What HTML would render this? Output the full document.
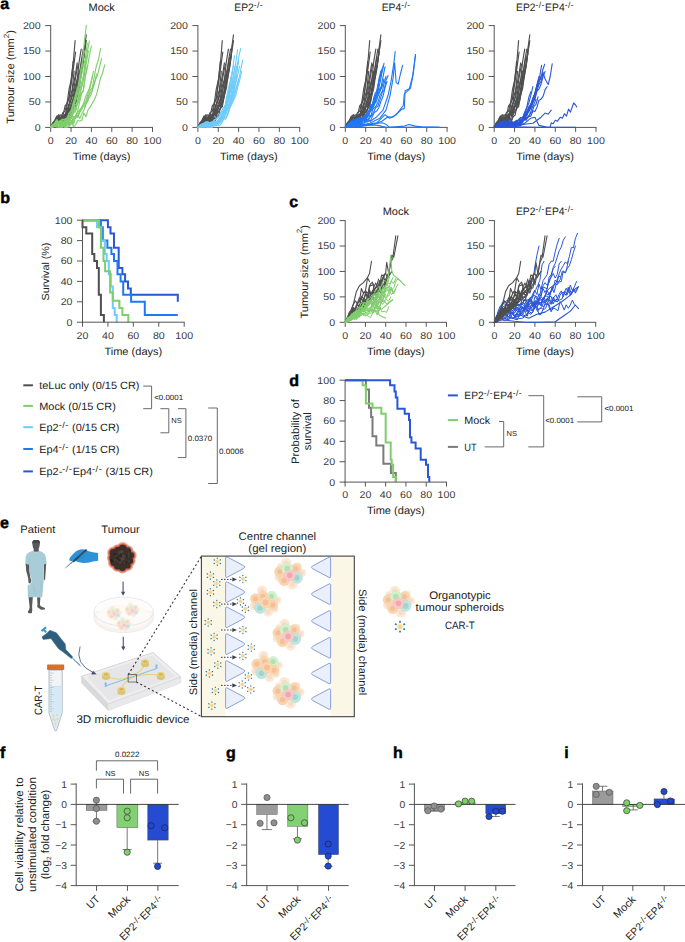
<!DOCTYPE html>
<html><head><meta charset="utf-8"><title>Figure</title>
<style>
html,body{margin:0;padding:0;background:#fff;}
svg{display:block;font-family:"Liberation Sans",sans-serif;text-rendering:geometricPrecision;}
</style></head><body>
<svg width="685" height="942" viewBox="0 0 685 942">
<rect width="685" height="942" fill="#fff"/>
<text x="0.2" y="8.9" font-size="16" text-anchor="start" fill="#000" font-weight="bold" stroke="#000" stroke-width="0.45">a</text>
<line x1="50.70" y1="25.10" x2="50.70" y2="127.90" stroke="#555" stroke-width="1"/>
<line x1="50.20" y1="127.40" x2="153.00" y2="127.40" stroke="#555" stroke-width="1"/>
<line x1="50.70" y1="127.40" x2="50.70" y2="131.90" stroke="#555" stroke-width="1"/>
<text transform="translate(50.7 143.7) scale(1.082 1)" font-size="9.84" text-anchor="middle" fill="#3a3a3a">0</text>
<line x1="71.06" y1="127.40" x2="71.06" y2="131.90" stroke="#555" stroke-width="1"/>
<text transform="translate(71.1 143.7) scale(1.082 1)" font-size="9.84" text-anchor="middle" fill="#3a3a3a">20</text>
<line x1="91.42" y1="127.40" x2="91.42" y2="131.90" stroke="#555" stroke-width="1"/>
<text transform="translate(91.4 143.7) scale(1.082 1)" font-size="9.84" text-anchor="middle" fill="#3a3a3a">40</text>
<line x1="111.78" y1="127.40" x2="111.78" y2="131.90" stroke="#555" stroke-width="1"/>
<text transform="translate(111.8 143.7) scale(1.082 1)" font-size="9.84" text-anchor="middle" fill="#3a3a3a">60</text>
<line x1="132.14" y1="127.40" x2="132.14" y2="131.90" stroke="#555" stroke-width="1"/>
<text transform="translate(132.1 143.7) scale(1.082 1)" font-size="9.84" text-anchor="middle" fill="#3a3a3a">80</text>
<line x1="152.50" y1="127.40" x2="152.50" y2="131.90" stroke="#555" stroke-width="1"/>
<text transform="translate(152.5 143.7) scale(1.082 1)" font-size="9.84" text-anchor="middle" fill="#3a3a3a">100</text>
<line x1="45.20" y1="127.40" x2="50.70" y2="127.40" stroke="#555" stroke-width="1"/>
<text transform="translate(40.7 130.8) scale(1.082 1)" font-size="9.84" text-anchor="end" fill="#3a3a3a">0</text>
<line x1="45.20" y1="101.95" x2="50.70" y2="101.95" stroke="#555" stroke-width="1"/>
<text transform="translate(40.7 105.4) scale(1.082 1)" font-size="9.84" text-anchor="end" fill="#3a3a3a">50</text>
<line x1="45.20" y1="76.50" x2="50.70" y2="76.50" stroke="#555" stroke-width="1"/>
<text transform="translate(40.7 79.9) scale(1.082 1)" font-size="9.84" text-anchor="end" fill="#3a3a3a">100</text>
<line x1="45.20" y1="51.05" x2="50.70" y2="51.05" stroke="#555" stroke-width="1"/>
<text transform="translate(40.7 54.4) scale(1.082 1)" font-size="9.84" text-anchor="end" fill="#3a3a3a">150</text>
<line x1="45.20" y1="25.60" x2="50.70" y2="25.60" stroke="#555" stroke-width="1"/>
<text transform="translate(40.7 29.0) scale(1.082 1)" font-size="9.84" text-anchor="end" fill="#3a3a3a">200</text>
<text transform="translate(101.6 11.4) scale(1.019 1)" font-size="10.81" text-anchor="middle" fill="#222">Mock</text>
<text transform="translate(101.6 159.7) scale(1.040 1)" font-size="10.62" text-anchor="middle" fill="#222">Time (days)</text>
<text transform="translate(14.4 76.9) rotate(-90) scale(1.040 1)" font-size="10.62" text-anchor="middle" fill="#222">Tumour size (mm<tspan dy="-5.2" font-size="7.6">2</tspan><tspan dy="5.2">)</tspan></text>
<path d="M50.7,127.4 L52.7,122.8 L54.8,120.3 L56.8,116.0 L58.8,120.6 L60.9,117.6 L62.9,112.4 L65.0,111.3 L67.0,102.8 L69.0,99.0 L71.1,81.5 L73.1,61.3" stroke="#4f4f4f" stroke-width="1.15" fill="none" stroke-linejoin="round" stroke-linecap="round"/>
<path d="M50.7,127.4 L52.7,126.6 L54.8,123.8 L56.8,121.5 L58.8,115.8 L60.9,114.9 L62.9,116.5 L65.0,106.0 L67.0,103.7 L69.0,89.5 L71.1,80.2 L73.1,64.7 L75.1,40.6" stroke="#4f4f4f" stroke-width="1.15" fill="none" stroke-linejoin="round" stroke-linecap="round"/>
<path d="M50.7,127.4 L52.8,124.0 L54.9,122.3 L56.9,123.5 L59.0,118.4 L61.1,120.9 L63.2,117.5 L65.2,116.8 L67.3,103.8 L69.4,96.2 L71.5,81.6 L73.6,66.9 L75.6,52.0" stroke="#4f4f4f" stroke-width="1.15" fill="none" stroke-linejoin="round" stroke-linecap="round"/>
<path d="M50.7,127.4 L52.7,127.1 L54.6,126.4 L56.6,124.2 L58.6,121.3 L60.5,124.8 L62.5,117.8 L64.4,117.9 L66.4,114.4 L68.4,105.4 L70.3,102.1 L72.3,96.1 L74.3,86.0 L76.2,74.0 L78.2,64.0" stroke="#4f4f4f" stroke-width="1.15" fill="none" stroke-linejoin="round" stroke-linecap="round"/>
<path d="M50.7,127.4 L52.7,125.3 L54.8,123.5 L56.8,126.9 L58.8,121.6 L60.9,124.3 L62.9,121.8 L65.0,124.9 L67.0,122.1 L69.0,117.4 L71.1,106.0 L73.1,105.6 L75.1,92.5 L77.2,80.4 L79.2,70.8" stroke="#4f4f4f" stroke-width="1.15" fill="none" stroke-linejoin="round" stroke-linecap="round"/>
<path d="M50.7,127.4 L52.7,125.3 L54.8,122.2 L56.8,123.7 L58.8,118.8 L60.9,118.3 L62.9,117.4 L65.0,122.7 L67.0,112.7 L69.0,115.5 L71.1,107.7 L73.1,98.0 L75.1,86.1 L77.2,79.5 L79.2,61.3 L81.2,49.1" stroke="#4f4f4f" stroke-width="1.15" fill="none" stroke-linejoin="round" stroke-linecap="round"/>
<path d="M50.7,127.4 L52.7,126.7 L54.6,125.6 L56.6,123.8 L58.6,119.8 L60.6,117.0 L62.5,122.7 L64.5,121.9 L66.5,111.8 L68.5,112.0 L70.4,108.7 L72.4,104.6 L74.4,95.1 L76.3,85.5 L78.3,79.6 L80.3,69.7 L82.3,57.6" stroke="#4f4f4f" stroke-width="1.15" fill="none" stroke-linejoin="round" stroke-linecap="round"/>
<path d="M50.7,127.4 L52.8,126.1 L54.9,123.4 L57.0,126.1 L59.1,122.0 L61.2,119.7 L63.3,121.6 L65.4,119.0 L67.5,122.5 L69.6,116.8 L71.7,115.0 L73.8,104.0 L75.9,101.6 L78.0,91.7 L80.1,76.9 L82.2,65.6 L84.3,53.6" stroke="#4f4f4f" stroke-width="1.15" fill="none" stroke-linejoin="round" stroke-linecap="round"/>
<path d="M50.7,127.4 L52.7,124.4 L54.7,123.0 L56.6,121.9 L58.6,120.0 L60.6,122.3 L62.6,120.8 L64.6,115.5 L66.5,114.7 L68.5,115.3 L70.5,113.3 L72.5,110.3 L74.5,106.6 L76.4,98.0 L78.4,85.1 L80.4,74.0 L82.4,66.0 L84.4,48.5 L86.3,34.8" stroke="#4f4f4f" stroke-width="1.15" fill="none" stroke-linejoin="round" stroke-linecap="round"/>
<path d="M50.7,127.4 L52.7,123.8 L54.8,122.6 L56.8,118.1 L58.8,119.6 L60.9,118.8 L62.9,116.7 L65.0,117.1 L67.0,119.4 L69.0,112.2 L71.1,111.7 L73.1,108.0 L75.1,106.8 L77.2,95.0 L79.2,88.1 L81.2,73.3 L83.3,61.3 L85.3,44.9" stroke="#4f4f4f" stroke-width="1.15" fill="none" stroke-linejoin="round" stroke-linecap="round"/>
<path d="M50.7,127.4 L52.7,124.9 L54.8,120.7 L56.8,117.0 L58.8,114.7 L60.9,118.7 L62.9,115.0 L65.0,114.5 L67.0,114.7 L69.0,110.1 L71.1,106.7 L73.1,105.1 L75.1,98.1 L77.2,92.2 L79.2,75.7 L81.2,61.5 L83.3,49.0" stroke="#4f4f4f" stroke-width="1.15" fill="none" stroke-linejoin="round" stroke-linecap="round"/>
<path d="M50.7,127.4 L52.8,123.6 L54.9,123.1 L57.0,117.2 L59.1,117.8 L61.2,117.3 L63.4,119.0 L65.5,116.4 L67.6,113.2 L69.7,111.4 L71.8,106.4 L73.9,106.3 L76.0,97.8 L78.1,86.2 L80.2,74.4" stroke="#4f4f4f" stroke-width="1.15" fill="none" stroke-linejoin="round" stroke-linecap="round"/>
<path d="M50.7,127.4 L52.7,124.2 L54.8,124.0 L56.8,119.3 L58.8,119.9 L60.9,121.1 L62.9,118.9 L65.0,114.4 L67.0,111.2 L69.0,105.2 L71.1,99.0 L73.1,86.4 L75.1,76.4 L77.2,62.9" stroke="#4f4f4f" stroke-width="1.15" fill="none" stroke-linejoin="round" stroke-linecap="round"/>
<path d="M50.7,127.4 L52.7,124.4 L54.6,126.4 L56.6,123.0 L58.5,123.1 L60.5,122.2 L62.4,123.5 L64.4,115.1 L66.3,114.6 L68.3,110.8 L70.2,97.2 L72.2,89.6 L74.1,71.3" stroke="#4f4f4f" stroke-width="1.15" fill="none" stroke-linejoin="round" stroke-linecap="round"/>
<path d="M50.7,127.4 L52.7,123.4 L54.7,121.1 L56.6,120.5 L58.6,117.0 L60.6,118.0 L62.6,119.6 L64.6,120.2 L66.5,114.5 L68.5,112.0 L70.5,105.1 L72.5,100.3 L74.5,97.6 L76.4,92.9 L78.4,80.7 L80.4,78.9 L82.4,67.9 L84.4,52.8 L86.3,40.6" stroke="#4f4f4f" stroke-width="1.15" fill="none" stroke-linejoin="round" stroke-linecap="round"/>
<path d="M50.7,127.4 L52.7,126.9 L54.8,123.3 L56.8,121.5 L58.8,121.6 L60.9,125.0 L62.9,122.3 L65.0,122.8 L67.0,121.6 L69.0,114.0 L71.1,110.0 L73.1,112.0 L75.1,100.0 L77.2,94.3 L79.2,86.8 L81.2,75.3" stroke="#7fce6c" stroke-width="1.1" fill="none" stroke-linejoin="round" stroke-linecap="round"/>
<path d="M50.7,127.4 L52.8,125.5 L54.9,124.2 L57.0,125.5 L59.1,121.7 L61.2,119.9 L63.3,119.3 L65.4,120.6 L67.5,122.5 L69.6,119.7 L71.7,114.4 L73.8,102.8 L75.9,100.1 L78.0,90.6 L80.1,75.9 L82.2,67.1 L84.3,50.7" stroke="#7fce6c" stroke-width="1.1" fill="none" stroke-linejoin="round" stroke-linecap="round"/>
<path d="M50.7,127.4 L52.7,126.5 L54.7,124.7 L56.6,127.1 L58.6,126.7 L60.6,125.6 L62.6,127.4 L64.6,123.5 L66.5,119.2 L68.5,117.4 L70.5,114.2 L72.5,106.5 L74.5,104.7 L76.4,93.4 L78.4,84.8 L80.4,71.4 L82.4,61.3 L84.4,41.1 L86.3,25.4" stroke="#7fce6c" stroke-width="1.1" fill="none" stroke-linejoin="round" stroke-linecap="round"/>
<path d="M50.7,127.4 L52.7,124.3 L54.8,124.2 L56.8,122.8 L58.8,123.0 L60.9,122.6 L62.9,119.2 L65.0,120.6 L67.0,118.6 L69.0,113.1 L71.1,111.2 L73.1,103.0 L75.1,96.0 L77.2,89.7 L79.2,84.3 L81.2,76.7 L83.3,66.5 L85.3,58.9 L87.3,43.4" stroke="#7fce6c" stroke-width="1.1" fill="none" stroke-linejoin="round" stroke-linecap="round"/>
<path d="M50.7,127.4 L52.8,127.4 L54.9,125.5 L57.0,123.8 L59.1,124.4 L61.2,121.3 L63.3,122.5 L65.3,124.8 L67.4,121.4 L69.5,116.5 L71.6,116.2 L73.7,111.6 L75.8,110.4 L77.9,101.2 L80.0,94.0 L82.1,85.8 L84.2,75.7 L86.3,63.1 L88.4,50.9" stroke="#7fce6c" stroke-width="1.1" fill="none" stroke-linejoin="round" stroke-linecap="round"/>
<path d="M50.7,127.4 L52.7,126.8 L54.8,123.9 L56.8,125.4 L58.8,127.3 L60.9,127.4 L62.9,124.2 L65.0,126.9 L67.0,125.3 L69.0,123.2 L71.1,118.0 L73.1,110.4 L75.1,109.3 L77.2,103.7 L79.2,96.9 L81.2,88.2 L83.3,79.0 L85.3,66.0 L87.3,52.2 L89.4,40.9" stroke="#7fce6c" stroke-width="1.1" fill="none" stroke-linejoin="round" stroke-linecap="round"/>
<path d="M50.7,127.4 L52.7,124.6 L54.8,125.7 L56.8,124.1 L58.8,121.4 L60.9,121.0 L62.9,121.4 L65.0,121.5 L67.0,119.1 L69.0,120.2 L71.1,115.9 L73.1,112.1 L75.1,112.3 L77.2,104.9 L79.2,100.5 L81.2,92.9 L83.3,91.4 L85.3,76.6 L87.3,67.9 L89.4,55.4 L91.4,46.0" stroke="#7fce6c" stroke-width="1.1" fill="none" stroke-linejoin="round" stroke-linecap="round"/>
<path d="M50.7,127.4 L52.7,127.0 L54.8,123.9 L56.8,120.6 L58.8,123.8 L60.9,123.0 L62.9,125.3 L65.0,124.5 L67.0,124.2 L69.0,124.5 L71.1,117.1 L73.1,116.4 L75.1,117.5 L77.2,113.1 L79.2,110.4 L81.2,107.9 L83.3,104.4 L85.3,97.7 L87.3,92.8 L89.4,88.5 L91.4,80.6 L93.5,71.4" stroke="#7fce6c" stroke-width="1.1" fill="none" stroke-linejoin="round" stroke-linecap="round"/>
<path d="M50.7,127.4 L52.8,126.1 L54.9,124.1 L57.0,122.8 L59.0,123.4 L61.1,127.4 L63.2,125.1 L65.3,127.4 L67.4,127.2 L69.5,125.1 L71.6,122.5 L73.7,118.8 L75.7,117.7 L77.8,117.5 L79.9,111.3 L82.0,108.7 L84.1,104.0 L86.2,100.2 L88.3,92.6 L90.4,86.0 L92.4,76.5" stroke="#7fce6c" stroke-width="1.1" fill="none" stroke-linejoin="round" stroke-linecap="round"/>
<path d="M50.7,127.4 L52.8,126.2 L54.9,125.0 L56.9,122.7 L59.0,121.8 L61.1,121.2 L63.2,124.2 L65.3,121.4 L67.4,120.0 L69.4,119.4 L71.5,120.5 L73.6,124.1 L75.7,117.0 L77.8,115.1 L79.9,118.5 L81.9,113.4 L84.0,110.0 L86.1,103.0 L88.2,99.3 L90.3,96.3 L92.3,90.7 L94.4,83.9 L96.5,74.0" stroke="#7fce6c" stroke-width="1.1" fill="none" stroke-linejoin="round" stroke-linecap="round"/>
<path d="M50.7,127.4 L52.8,126.3 L54.9,122.4 L56.9,119.5 L59.0,123.2 L61.1,121.2 L63.2,122.4 L65.2,118.6 L67.3,119.2 L69.4,124.8 L71.5,122.7 L73.6,117.0 L75.6,117.4 L77.7,115.8 L79.8,111.3 L81.9,108.6 L84.0,103.7 L86.0,103.9 L88.1,100.6 L90.2,89.9 L92.3,87.6 L94.3,76.3 L96.4,65.7 L98.5,59.6 L100.6,48.5" stroke="#7fce6c" stroke-width="1.1" fill="none" stroke-linejoin="round" stroke-linecap="round"/>
<path d="M50.7,127.4 L52.7,126.3 L54.8,124.3 L56.8,122.5 L58.8,127.4 L60.9,121.8 L62.9,124.6 L65.0,125.5 L67.0,124.6 L69.0,122.5 L71.1,123.1 L73.1,123.1 L75.1,116.3 L77.2,115.3 L79.2,113.6 L81.2,110.0 L83.3,104.9 L85.3,107.0 L87.3,98.4 L89.4,93.9 L91.4,92.2 L93.5,85.1 L95.5,79.8 L97.5,75.3 L99.6,66.6 L101.6,58.7" stroke="#7fce6c" stroke-width="1.1" fill="none" stroke-linejoin="round" stroke-linecap="round"/>
<path d="M50.7,127.4 L52.8,126.1 L54.9,125.4 L56.9,122.5 L59.0,123.0 L61.1,125.8 L63.2,125.8 L65.2,127.4 L67.3,127.4 L69.4,125.9 L71.5,121.0 L73.5,126.7 L75.6,124.9 L77.7,120.5 L79.8,121.0 L81.8,120.5 L83.9,112.9 L86.0,116.7 L88.1,109.6 L90.1,107.1 L92.2,103.5 L94.3,99.9 L96.4,94.8 L98.4,87.2 L100.5,78.2 L102.6,73.0 L104.7,64.8" stroke="#7fce6c" stroke-width="1.1" fill="none" stroke-linejoin="round" stroke-linecap="round"/>
<path d="M50.7,127.4 L52.7,125.4 L54.8,125.4 L56.8,125.3 L58.8,124.4 L60.9,121.9 L62.9,125.5 L65.0,127.4 L67.0,120.9 L69.0,125.9 L71.1,124.3 L73.1,117.5 L75.1,117.0 L77.2,112.6 L79.2,104.3 L81.2,95.3 L83.3,90.3 L85.3,75.7 L87.3,66.1" stroke="#7fce6c" stroke-width="1.1" fill="none" stroke-linejoin="round" stroke-linecap="round"/>
<path d="M50.7,127.4 L52.7,127.4 L54.8,126.1 L56.8,122.4 L58.8,121.5 L60.9,125.7 L62.9,121.9 L65.0,122.6 L67.0,120.8 L69.0,120.3 L71.1,118.8 L73.1,114.0 L75.1,104.6 L77.2,103.9 L79.2,91.3 L81.2,84.3 L83.3,76.5 L85.3,60.6" stroke="#7fce6c" stroke-width="1.1" fill="none" stroke-linejoin="round" stroke-linecap="round"/>
<line x1="197.90" y1="25.10" x2="197.90" y2="127.90" stroke="#555" stroke-width="1"/>
<line x1="197.40" y1="127.40" x2="300.20" y2="127.40" stroke="#555" stroke-width="1"/>
<line x1="197.90" y1="127.40" x2="197.90" y2="131.90" stroke="#555" stroke-width="1"/>
<text transform="translate(197.9 143.7) scale(1.082 1)" font-size="9.84" text-anchor="middle" fill="#3a3a3a">0</text>
<line x1="218.26" y1="127.40" x2="218.26" y2="131.90" stroke="#555" stroke-width="1"/>
<text transform="translate(218.3 143.7) scale(1.082 1)" font-size="9.84" text-anchor="middle" fill="#3a3a3a">20</text>
<line x1="238.62" y1="127.40" x2="238.62" y2="131.90" stroke="#555" stroke-width="1"/>
<text transform="translate(238.6 143.7) scale(1.082 1)" font-size="9.84" text-anchor="middle" fill="#3a3a3a">40</text>
<line x1="258.98" y1="127.40" x2="258.98" y2="131.90" stroke="#555" stroke-width="1"/>
<text transform="translate(259.0 143.7) scale(1.082 1)" font-size="9.84" text-anchor="middle" fill="#3a3a3a">60</text>
<line x1="279.34" y1="127.40" x2="279.34" y2="131.90" stroke="#555" stroke-width="1"/>
<text transform="translate(279.3 143.7) scale(1.082 1)" font-size="9.84" text-anchor="middle" fill="#3a3a3a">80</text>
<line x1="299.70" y1="127.40" x2="299.70" y2="131.90" stroke="#555" stroke-width="1"/>
<text transform="translate(299.7 143.7) scale(1.082 1)" font-size="9.84" text-anchor="middle" fill="#3a3a3a">100</text>
<line x1="192.40" y1="127.40" x2="197.90" y2="127.40" stroke="#555" stroke-width="1"/>
<text transform="translate(187.9 130.8) scale(1.082 1)" font-size="9.84" text-anchor="end" fill="#3a3a3a">0</text>
<line x1="192.40" y1="101.95" x2="197.90" y2="101.95" stroke="#555" stroke-width="1"/>
<text transform="translate(187.9 105.4) scale(1.082 1)" font-size="9.84" text-anchor="end" fill="#3a3a3a">50</text>
<line x1="192.40" y1="76.50" x2="197.90" y2="76.50" stroke="#555" stroke-width="1"/>
<text transform="translate(187.9 79.9) scale(1.082 1)" font-size="9.84" text-anchor="end" fill="#3a3a3a">100</text>
<line x1="192.40" y1="51.05" x2="197.90" y2="51.05" stroke="#555" stroke-width="1"/>
<text transform="translate(187.9 54.4) scale(1.082 1)" font-size="9.84" text-anchor="end" fill="#3a3a3a">150</text>
<line x1="192.40" y1="25.60" x2="197.90" y2="25.60" stroke="#555" stroke-width="1"/>
<text transform="translate(187.9 29.0) scale(1.082 1)" font-size="9.84" text-anchor="end" fill="#3a3a3a">200</text>
<text transform="translate(248.8 11.4) scale(0.957 1)" font-size="10.81" text-anchor="middle" fill="#222">EP2<tspan dy="-3.0" font-size="8.80" letter-spacing="0.45">-/-</tspan><tspan dy="3.0" font-size="1">&#160;</tspan></text>
<text transform="translate(248.8 159.7) scale(1.040 1)" font-size="10.62" text-anchor="middle" fill="#222">Time (days)</text>
<path d="M197.9,127.4 L199.9,122.8 L202.0,120.3 L204.0,116.0 L206.0,120.6 L208.1,117.6 L210.1,112.4 L212.2,111.3 L214.2,102.8 L216.2,99.0 L218.3,81.5 L220.3,61.3" stroke="#4f4f4f" stroke-width="1.15" fill="none" stroke-linejoin="round" stroke-linecap="round"/>
<path d="M197.9,127.4 L199.9,126.6 L202.0,123.8 L204.0,121.5 L206.0,115.8 L208.1,114.9 L210.1,116.5 L212.2,106.0 L214.2,103.7 L216.2,89.5 L218.3,80.2 L220.3,64.7 L222.3,40.6" stroke="#4f4f4f" stroke-width="1.15" fill="none" stroke-linejoin="round" stroke-linecap="round"/>
<path d="M197.9,127.4 L200.0,124.0 L202.1,122.3 L204.1,123.5 L206.2,118.4 L208.3,120.9 L210.4,117.5 L212.4,116.8 L214.5,103.8 L216.6,96.2 L218.7,81.6 L220.8,66.9 L222.8,52.0" stroke="#4f4f4f" stroke-width="1.15" fill="none" stroke-linejoin="round" stroke-linecap="round"/>
<path d="M197.9,127.4 L199.9,127.1 L201.8,126.4 L203.8,124.2 L205.8,121.3 L207.7,124.8 L209.7,117.8 L211.6,117.9 L213.6,114.4 L215.6,105.4 L217.5,102.1 L219.5,96.1 L221.5,86.0 L223.4,74.0 L225.4,64.0" stroke="#4f4f4f" stroke-width="1.15" fill="none" stroke-linejoin="round" stroke-linecap="round"/>
<path d="M197.9,127.4 L199.9,125.3 L202.0,123.5 L204.0,126.9 L206.0,121.6 L208.1,124.3 L210.1,121.8 L212.2,124.9 L214.2,122.1 L216.2,117.4 L218.3,106.0 L220.3,105.6 L222.3,92.5 L224.4,80.4 L226.4,70.8" stroke="#4f4f4f" stroke-width="1.15" fill="none" stroke-linejoin="round" stroke-linecap="round"/>
<path d="M197.9,127.4 L199.9,125.3 L202.0,122.2 L204.0,123.7 L206.0,118.8 L208.1,118.3 L210.1,117.4 L212.2,122.7 L214.2,112.7 L216.2,115.5 L218.3,107.7 L220.3,98.0 L222.3,86.1 L224.4,79.5 L226.4,61.3 L228.4,49.1" stroke="#4f4f4f" stroke-width="1.15" fill="none" stroke-linejoin="round" stroke-linecap="round"/>
<path d="M197.9,127.4 L199.9,126.7 L201.8,125.6 L203.8,123.8 L205.8,119.8 L207.8,117.0 L209.7,122.7 L211.7,121.9 L213.7,111.8 L215.7,112.0 L217.6,108.7 L219.6,104.6 L221.6,95.1 L223.5,85.5 L225.5,79.6 L227.5,69.7 L229.5,57.6" stroke="#4f4f4f" stroke-width="1.15" fill="none" stroke-linejoin="round" stroke-linecap="round"/>
<path d="M197.9,127.4 L200.0,126.1 L202.1,123.4 L204.2,126.1 L206.3,122.0 L208.4,119.7 L210.5,121.6 L212.6,119.0 L214.7,122.5 L216.8,116.8 L218.9,115.0 L221.0,104.0 L223.1,101.6 L225.2,91.7 L227.3,76.9 L229.4,65.6 L231.5,53.6" stroke="#4f4f4f" stroke-width="1.15" fill="none" stroke-linejoin="round" stroke-linecap="round"/>
<path d="M197.9,127.4 L199.9,124.4 L201.9,123.0 L203.8,121.9 L205.8,120.0 L207.8,122.3 L209.8,120.8 L211.8,115.5 L213.7,114.7 L215.7,115.3 L217.7,113.3 L219.7,110.3 L221.7,106.6 L223.6,98.0 L225.6,85.1 L227.6,74.0 L229.6,66.0 L231.6,48.5 L233.5,34.8" stroke="#4f4f4f" stroke-width="1.15" fill="none" stroke-linejoin="round" stroke-linecap="round"/>
<path d="M197.9,127.4 L199.9,123.8 L202.0,122.6 L204.0,118.1 L206.0,119.6 L208.1,118.8 L210.1,116.7 L212.2,117.1 L214.2,119.4 L216.2,112.2 L218.3,111.7 L220.3,108.0 L222.3,106.8 L224.4,95.0 L226.4,88.1 L228.4,73.3 L230.5,61.3 L232.5,44.9" stroke="#4f4f4f" stroke-width="1.15" fill="none" stroke-linejoin="round" stroke-linecap="round"/>
<path d="M197.9,127.4 L199.9,124.9 L202.0,120.7 L204.0,117.0 L206.0,114.7 L208.1,118.7 L210.1,115.0 L212.2,114.5 L214.2,114.7 L216.2,110.1 L218.3,106.7 L220.3,105.1 L222.3,98.1 L224.4,92.2 L226.4,75.7 L228.4,61.5 L230.5,49.0" stroke="#4f4f4f" stroke-width="1.15" fill="none" stroke-linejoin="round" stroke-linecap="round"/>
<path d="M197.9,127.4 L200.0,123.6 L202.1,123.1 L204.2,117.2 L206.3,117.8 L208.4,117.3 L210.6,119.0 L212.7,116.4 L214.8,113.2 L216.9,111.4 L219.0,106.4 L221.1,106.3 L223.2,97.8 L225.3,86.2 L227.4,74.4" stroke="#4f4f4f" stroke-width="1.15" fill="none" stroke-linejoin="round" stroke-linecap="round"/>
<path d="M197.9,127.4 L199.9,124.2 L202.0,124.0 L204.0,119.3 L206.0,119.9 L208.1,121.1 L210.1,118.9 L212.2,114.4 L214.2,111.2 L216.2,105.2 L218.3,99.0 L220.3,86.4 L222.3,76.4 L224.4,62.9" stroke="#4f4f4f" stroke-width="1.15" fill="none" stroke-linejoin="round" stroke-linecap="round"/>
<path d="M197.9,127.4 L199.9,124.4 L201.8,126.4 L203.8,123.0 L205.7,123.1 L207.7,122.2 L209.6,123.5 L211.6,115.1 L213.5,114.6 L215.5,110.8 L217.4,97.2 L219.4,89.6 L221.3,71.3" stroke="#4f4f4f" stroke-width="1.15" fill="none" stroke-linejoin="round" stroke-linecap="round"/>
<path d="M197.9,127.4 L199.9,123.4 L201.9,121.1 L203.8,120.5 L205.8,117.0 L207.8,118.0 L209.8,119.6 L211.8,120.2 L213.7,114.5 L215.7,112.0 L217.7,105.1 L219.7,100.3 L221.7,97.6 L223.6,92.9 L225.6,80.7 L227.6,78.9 L229.6,67.9 L231.6,52.8 L233.5,40.6" stroke="#4f4f4f" stroke-width="1.15" fill="none" stroke-linejoin="round" stroke-linecap="round"/>
<path d="M197.9,127.4 L200.0,126.2 L202.1,124.8 L204.2,123.2 L206.3,124.4 L208.4,123.2 L210.5,122.6 L212.6,121.4 L214.7,124.0 L216.8,121.2 L218.9,119.7 L221.0,112.4 L223.1,108.1 L225.2,105.3 L227.3,93.0 L229.4,84.0 L231.5,75.7" stroke="#6ecbfa" stroke-width="1.1" fill="none" stroke-linejoin="round" stroke-linecap="round"/>
<path d="M197.9,127.4 L199.9,127.4 L201.9,126.2 L203.8,127.3 L205.8,126.7 L207.8,126.6 L209.8,127.4 L211.8,125.5 L213.7,125.1 L215.7,122.0 L217.7,121.8 L219.7,118.6 L221.7,115.7 L223.6,110.1 L225.6,105.1 L227.6,98.6 L229.6,86.1 L231.6,75.7 L233.5,66.0" stroke="#6ecbfa" stroke-width="1.1" fill="none" stroke-linejoin="round" stroke-linecap="round"/>
<path d="M197.9,127.4 L199.9,127.3 L202.0,126.6 L204.0,126.8 L206.0,123.8 L208.1,125.4 L210.1,123.2 L212.2,125.6 L214.2,122.3 L216.2,121.9 L218.3,124.4 L220.3,120.6 L222.3,113.0 L224.4,109.9 L226.4,100.3 L228.4,94.6 L230.5,85.6 L232.5,70.1 L234.5,55.7" stroke="#6ecbfa" stroke-width="1.1" fill="none" stroke-linejoin="round" stroke-linecap="round"/>
<path d="M197.9,127.4 L199.9,127.3 L202.0,125.0 L204.0,124.9 L206.0,127.2 L208.1,126.9 L210.1,127.4 L212.2,127.4 L214.2,123.4 L216.2,125.5 L218.3,121.8 L220.3,119.9 L222.3,117.9 L224.4,111.1 L226.4,109.1 L228.4,100.5 L230.5,96.1 L232.5,86.4 L234.5,78.1 L236.6,66.2" stroke="#6ecbfa" stroke-width="1.1" fill="none" stroke-linejoin="round" stroke-linecap="round"/>
<path d="M197.9,127.4 L199.9,126.7 L201.9,124.1 L203.9,125.1 L205.8,123.9 L207.8,122.0 L209.8,123.1 L211.8,125.8 L213.8,120.8 L215.8,123.9 L217.8,122.3 L219.7,117.6 L221.7,117.0 L223.7,113.4 L225.7,109.7 L227.7,103.6 L229.7,93.8 L231.6,86.8 L233.6,74.8 L235.6,64.1 L237.6,49.5" stroke="#6ecbfa" stroke-width="1.1" fill="none" stroke-linejoin="round" stroke-linecap="round"/>
<path d="M197.9,127.4 L199.9,126.4 L202.0,124.6 L204.0,126.0 L206.0,125.9 L208.1,122.5 L210.1,123.0 L212.2,125.9 L214.2,125.9 L216.2,122.5 L218.3,120.4 L220.3,122.5 L222.3,116.3 L224.4,113.5 L226.4,110.8 L228.4,106.6 L230.5,102.0 L232.5,94.8 L234.5,81.3 L236.6,74.6 L238.6,61.2" stroke="#6ecbfa" stroke-width="1.1" fill="none" stroke-linejoin="round" stroke-linecap="round"/>
<path d="M197.9,127.4 L200.0,126.0 L202.1,125.6 L204.2,125.0 L206.2,122.4 L208.3,125.5 L210.4,124.9 L212.5,123.2 L214.6,121.3 L216.7,121.6 L218.8,122.0 L220.9,116.7 L222.9,117.7 L225.0,115.4 L227.1,110.0 L229.2,104.3 L231.3,100.5 L233.4,93.4 L235.5,84.9 L237.6,75.5 L239.6,66.3" stroke="#6ecbfa" stroke-width="1.1" fill="none" stroke-linejoin="round" stroke-linecap="round"/>
<path d="M197.9,127.4 L199.9,125.1 L202.0,124.5 L204.0,123.1 L206.0,123.0 L208.1,125.2 L210.1,125.7 L212.2,125.3 L214.2,119.9 L216.2,119.6 L218.3,116.4 L220.3,118.8 L222.3,112.5 L224.4,109.5 L226.4,103.7 L228.4,100.5 L230.5,91.0 L232.5,88.7 L234.5,78.4 L236.6,68.5 L238.6,57.6 L240.7,48.5" stroke="#6ecbfa" stroke-width="1.1" fill="none" stroke-linejoin="round" stroke-linecap="round"/>
<path d="M197.9,127.4 L199.9,125.4 L201.9,125.6 L203.9,123.4 L205.9,121.8 L207.8,121.7 L209.8,124.0 L211.8,122.3 L213.8,122.0 L215.8,123.3 L217.8,122.6 L219.8,123.0 L221.8,120.7 L223.8,118.8 L225.8,119.2 L227.7,113.5 L229.7,108.1 L231.7,104.4 L233.7,100.0 L235.7,95.8 L237.7,87.2 L239.7,80.1 L241.7,71.4" stroke="#6ecbfa" stroke-width="1.1" fill="none" stroke-linejoin="round" stroke-linecap="round"/>
<path d="M197.9,127.4 L199.9,126.3 L202.0,127.4 L204.0,125.5 L206.0,125.7 L208.1,127.0 L210.1,124.7 L212.2,125.7 L214.2,124.8 L216.2,122.7 L218.3,125.2 L220.3,125.2 L222.3,121.9 L224.4,117.6 L226.4,117.1 L228.4,113.5 L230.5,105.3 L232.5,101.3 L234.5,96.2 L236.6,86.7 L238.6,81.2 L240.7,70.0 L242.7,60.2" stroke="#6ecbfa" stroke-width="1.1" fill="none" stroke-linejoin="round" stroke-linecap="round"/>
<path d="M197.9,127.4 L200.0,125.3 L202.1,123.9 L204.2,124.3 L206.3,123.2 L208.4,124.6 L210.5,125.3 L212.5,122.9 L214.6,120.0 L216.7,118.2 L218.8,116.5 L220.9,112.0 L223.0,111.4 L225.1,106.9 L227.2,99.4 L229.3,93.2 L231.4,85.3 L233.5,74.9 L235.6,63.7" stroke="#6ecbfa" stroke-width="1.1" fill="none" stroke-linejoin="round" stroke-linecap="round"/>
<path d="M197.9,127.4 L199.9,125.9 L202.0,124.6 L204.0,125.4 L206.0,126.7 L208.1,127.2 L210.1,123.1 L212.2,127.3 L214.2,123.5 L216.2,123.4 L218.3,123.4 L220.3,119.1 L222.3,120.5 L224.4,116.6 L226.4,111.0 L228.4,108.3 L230.5,98.3 L232.5,94.5 L234.5,87.2 L236.6,76.4" stroke="#6ecbfa" stroke-width="1.1" fill="none" stroke-linejoin="round" stroke-linecap="round"/>
<path d="M197.9,127.4 L199.9,126.3 L202.0,125.3 L204.0,123.8 L206.0,122.7 L208.1,123.9 L210.1,126.3 L212.2,124.6 L214.2,125.6 L216.2,125.6 L218.3,122.1 L220.3,119.2 L222.3,119.9 L224.4,116.8 L226.4,113.3 L228.4,107.8 L230.5,104.3 L232.5,98.7 L234.5,92.1 L236.6,87.2 L238.6,79.0" stroke="#6ecbfa" stroke-width="1.1" fill="none" stroke-linejoin="round" stroke-linecap="round"/>
<path d="M197.9,127.4 L199.9,125.9 L202.0,125.7 L204.0,127.2 L206.0,125.8 L208.1,125.0 L210.1,123.6 L212.2,126.3 L214.2,124.9 L216.2,122.5 L218.3,121.2 L220.3,117.8 L222.3,116.4 L224.4,110.1 L226.4,105.4 L228.4,94.0 L230.5,82.6 L232.5,71.0" stroke="#6ecbfa" stroke-width="1.1" fill="none" stroke-linejoin="round" stroke-linecap="round"/>
<path d="M197.9,127.4 L199.9,125.9 L202.0,124.8 L204.0,123.8 L206.0,125.1 L208.1,123.8 L210.1,126.3 L212.2,123.2 L214.2,123.1 L216.2,125.0 L218.3,125.1 L220.3,121.3 L222.3,118.2 L224.4,113.6 L226.4,110.6 L228.4,107.4 L230.5,96.8 L232.5,92.7 L234.5,81.3" stroke="#6ecbfa" stroke-width="1.1" fill="none" stroke-linejoin="round" stroke-linecap="round"/>
<line x1="345.30" y1="25.10" x2="345.30" y2="127.90" stroke="#555" stroke-width="1"/>
<line x1="344.80" y1="127.40" x2="447.60" y2="127.40" stroke="#555" stroke-width="1"/>
<line x1="345.30" y1="127.40" x2="345.30" y2="131.90" stroke="#555" stroke-width="1"/>
<text transform="translate(345.3 143.7) scale(1.082 1)" font-size="9.84" text-anchor="middle" fill="#3a3a3a">0</text>
<line x1="365.66" y1="127.40" x2="365.66" y2="131.90" stroke="#555" stroke-width="1"/>
<text transform="translate(365.7 143.7) scale(1.082 1)" font-size="9.84" text-anchor="middle" fill="#3a3a3a">20</text>
<line x1="386.02" y1="127.40" x2="386.02" y2="131.90" stroke="#555" stroke-width="1"/>
<text transform="translate(386.0 143.7) scale(1.082 1)" font-size="9.84" text-anchor="middle" fill="#3a3a3a">40</text>
<line x1="406.38" y1="127.40" x2="406.38" y2="131.90" stroke="#555" stroke-width="1"/>
<text transform="translate(406.4 143.7) scale(1.082 1)" font-size="9.84" text-anchor="middle" fill="#3a3a3a">60</text>
<line x1="426.74" y1="127.40" x2="426.74" y2="131.90" stroke="#555" stroke-width="1"/>
<text transform="translate(426.7 143.7) scale(1.082 1)" font-size="9.84" text-anchor="middle" fill="#3a3a3a">80</text>
<line x1="447.10" y1="127.40" x2="447.10" y2="131.90" stroke="#555" stroke-width="1"/>
<text transform="translate(447.1 143.7) scale(1.082 1)" font-size="9.84" text-anchor="middle" fill="#3a3a3a">100</text>
<line x1="339.80" y1="127.40" x2="345.30" y2="127.40" stroke="#555" stroke-width="1"/>
<text transform="translate(335.3 130.8) scale(1.082 1)" font-size="9.84" text-anchor="end" fill="#3a3a3a">0</text>
<line x1="339.80" y1="101.95" x2="345.30" y2="101.95" stroke="#555" stroke-width="1"/>
<text transform="translate(335.3 105.4) scale(1.082 1)" font-size="9.84" text-anchor="end" fill="#3a3a3a">50</text>
<line x1="339.80" y1="76.50" x2="345.30" y2="76.50" stroke="#555" stroke-width="1"/>
<text transform="translate(335.3 79.9) scale(1.082 1)" font-size="9.84" text-anchor="end" fill="#3a3a3a">100</text>
<line x1="339.80" y1="51.05" x2="345.30" y2="51.05" stroke="#555" stroke-width="1"/>
<text transform="translate(335.3 54.4) scale(1.082 1)" font-size="9.84" text-anchor="end" fill="#3a3a3a">150</text>
<line x1="339.80" y1="25.60" x2="345.30" y2="25.60" stroke="#555" stroke-width="1"/>
<text transform="translate(335.3 29.0) scale(1.082 1)" font-size="9.84" text-anchor="end" fill="#3a3a3a">200</text>
<text transform="translate(396.2 11.4) scale(0.957 1)" font-size="10.81" text-anchor="middle" fill="#222">EP4<tspan dy="-3.0" font-size="8.80" letter-spacing="0.45">-/-</tspan><tspan dy="3.0" font-size="1">&#160;</tspan></text>
<text transform="translate(396.2 159.7) scale(1.040 1)" font-size="10.62" text-anchor="middle" fill="#222">Time (days)</text>
<path d="M345.3,127.4 L347.3,122.8 L349.4,120.3 L351.4,116.0 L353.4,120.6 L355.5,117.6 L357.5,112.4 L359.6,111.3 L361.6,102.8 L363.6,99.0 L365.7,81.5 L367.7,61.3" stroke="#4f4f4f" stroke-width="1.15" fill="none" stroke-linejoin="round" stroke-linecap="round"/>
<path d="M345.3,127.4 L347.3,126.6 L349.4,123.8 L351.4,121.5 L353.4,115.8 L355.5,114.9 L357.5,116.5 L359.6,106.0 L361.6,103.7 L363.6,89.5 L365.7,80.2 L367.7,64.7 L369.7,40.6" stroke="#4f4f4f" stroke-width="1.15" fill="none" stroke-linejoin="round" stroke-linecap="round"/>
<path d="M345.3,127.4 L347.4,124.0 L349.5,122.3 L351.5,123.5 L353.6,118.4 L355.7,120.9 L357.8,117.5 L359.8,116.8 L361.9,103.8 L364.0,96.2 L366.1,81.6 L368.2,66.9 L370.2,52.0" stroke="#4f4f4f" stroke-width="1.15" fill="none" stroke-linejoin="round" stroke-linecap="round"/>
<path d="M345.3,127.4 L347.3,127.1 L349.2,126.4 L351.2,124.2 L353.2,121.3 L355.1,124.8 L357.1,117.8 L359.0,117.9 L361.0,114.4 L363.0,105.4 L364.9,102.1 L366.9,96.1 L368.9,86.0 L370.8,74.0 L372.8,64.0" stroke="#4f4f4f" stroke-width="1.15" fill="none" stroke-linejoin="round" stroke-linecap="round"/>
<path d="M345.3,127.4 L347.3,125.3 L349.4,123.5 L351.4,126.9 L353.4,121.6 L355.5,124.3 L357.5,121.8 L359.6,124.9 L361.6,122.1 L363.6,117.4 L365.7,106.0 L367.7,105.6 L369.7,92.5 L371.8,80.4 L373.8,70.8" stroke="#4f4f4f" stroke-width="1.15" fill="none" stroke-linejoin="round" stroke-linecap="round"/>
<path d="M345.3,127.4 L347.3,125.3 L349.4,122.2 L351.4,123.7 L353.4,118.8 L355.5,118.3 L357.5,117.4 L359.6,122.7 L361.6,112.7 L363.6,115.5 L365.7,107.7 L367.7,98.0 L369.7,86.1 L371.8,79.5 L373.8,61.3 L375.8,49.1" stroke="#4f4f4f" stroke-width="1.15" fill="none" stroke-linejoin="round" stroke-linecap="round"/>
<path d="M345.3,127.4 L347.3,126.7 L349.2,125.6 L351.2,123.8 L353.2,119.8 L355.2,117.0 L357.1,122.7 L359.1,121.9 L361.1,111.8 L363.1,112.0 L365.0,108.7 L367.0,104.6 L369.0,95.1 L370.9,85.5 L372.9,79.6 L374.9,69.7 L376.9,57.6" stroke="#4f4f4f" stroke-width="1.15" fill="none" stroke-linejoin="round" stroke-linecap="round"/>
<path d="M345.3,127.4 L347.4,126.1 L349.5,123.4 L351.6,126.1 L353.7,122.0 L355.8,119.7 L357.9,121.6 L360.0,119.0 L362.1,122.5 L364.2,116.8 L366.3,115.0 L368.4,104.0 L370.5,101.6 L372.6,91.7 L374.7,76.9 L376.8,65.6 L378.9,53.6" stroke="#4f4f4f" stroke-width="1.15" fill="none" stroke-linejoin="round" stroke-linecap="round"/>
<path d="M345.3,127.4 L347.3,124.4 L349.3,123.0 L351.2,121.9 L353.2,120.0 L355.2,122.3 L357.2,120.8 L359.2,115.5 L361.1,114.7 L363.1,115.3 L365.1,113.3 L367.1,110.3 L369.1,106.6 L371.0,98.0 L373.0,85.1 L375.0,74.0 L377.0,66.0 L379.0,48.5 L380.9,34.8" stroke="#4f4f4f" stroke-width="1.15" fill="none" stroke-linejoin="round" stroke-linecap="round"/>
<path d="M345.3,127.4 L347.3,123.8 L349.4,122.6 L351.4,118.1 L353.4,119.6 L355.5,118.8 L357.5,116.7 L359.6,117.1 L361.6,119.4 L363.6,112.2 L365.7,111.7 L367.7,108.0 L369.7,106.8 L371.8,95.0 L373.8,88.1 L375.8,73.3 L377.9,61.3 L379.9,44.9" stroke="#4f4f4f" stroke-width="1.15" fill="none" stroke-linejoin="round" stroke-linecap="round"/>
<path d="M345.3,127.4 L347.3,124.9 L349.4,120.7 L351.4,117.0 L353.4,114.7 L355.5,118.7 L357.5,115.0 L359.6,114.5 L361.6,114.7 L363.6,110.1 L365.7,106.7 L367.7,105.1 L369.7,98.1 L371.8,92.2 L373.8,75.7 L375.8,61.5 L377.9,49.0" stroke="#4f4f4f" stroke-width="1.15" fill="none" stroke-linejoin="round" stroke-linecap="round"/>
<path d="M345.3,127.4 L347.4,123.6 L349.5,123.1 L351.6,117.2 L353.7,117.8 L355.8,117.3 L358.0,119.0 L360.1,116.4 L362.2,113.2 L364.3,111.4 L366.4,106.4 L368.5,106.3 L370.6,97.8 L372.7,86.2 L374.8,74.4" stroke="#4f4f4f" stroke-width="1.15" fill="none" stroke-linejoin="round" stroke-linecap="round"/>
<path d="M345.3,127.4 L347.3,124.2 L349.4,124.0 L351.4,119.3 L353.4,119.9 L355.5,121.1 L357.5,118.9 L359.6,114.4 L361.6,111.2 L363.6,105.2 L365.7,99.0 L367.7,86.4 L369.7,76.4 L371.8,62.9" stroke="#4f4f4f" stroke-width="1.15" fill="none" stroke-linejoin="round" stroke-linecap="round"/>
<path d="M345.3,127.4 L347.3,124.4 L349.2,126.4 L351.2,123.0 L353.1,123.1 L355.1,122.2 L357.0,123.5 L359.0,115.1 L360.9,114.6 L362.9,110.8 L364.8,97.2 L366.8,89.6 L368.7,71.3" stroke="#4f4f4f" stroke-width="1.15" fill="none" stroke-linejoin="round" stroke-linecap="round"/>
<path d="M345.3,127.4 L347.3,123.4 L349.3,121.1 L351.2,120.5 L353.2,117.0 L355.2,118.0 L357.2,119.6 L359.2,120.2 L361.1,114.5 L363.1,112.0 L365.1,105.1 L367.1,100.3 L369.1,97.6 L371.0,92.9 L373.0,80.7 L375.0,78.9 L377.0,67.9 L379.0,52.8 L380.9,40.6" stroke="#4f4f4f" stroke-width="1.15" fill="none" stroke-linejoin="round" stroke-linecap="round"/>
<path d="M345.3,127.4 L347.3,127.2 L349.3,126.8 L351.2,124.2 L353.2,124.1 L355.2,120.9 L357.2,121.7 L359.2,121.9 L361.1,121.3 L363.1,119.2 L365.1,120.7 L367.1,115.8 L369.1,114.2 L371.0,104.4 L373.0,105.1 L375.0,93.5 L377.0,91.5 L379.0,78.9 L380.9,70.9" stroke="#1f78f5" stroke-width="1.1" fill="none" stroke-linejoin="round" stroke-linecap="round"/>
<path d="M345.3,127.4 L347.4,127.3 L349.4,126.1 L351.5,120.6 L353.6,122.1 L355.6,125.1 L357.7,118.4 L359.7,117.8 L361.8,122.4 L363.9,118.2 L365.9,117.6 L368.0,113.0 L370.1,106.8 L372.1,105.4 L374.2,96.2 L376.3,94.6 L378.3,86.8 L380.4,74.5 L382.5,68.2" stroke="#1f78f5" stroke-width="1.1" fill="none" stroke-linejoin="round" stroke-linecap="round"/>
<path d="M345.3,127.4 L347.4,126.2 L349.5,125.4 L351.6,126.0 L353.7,121.8 L355.8,120.0 L357.9,119.5 L359.9,120.9 L362.0,121.6 L364.1,119.4 L366.2,114.3 L368.3,111.0 L370.4,110.8 L372.5,105.0 L374.6,98.3 L376.7,90.7 L378.8,81.3 L380.9,75.3 L383.0,66.2" stroke="#1f78f5" stroke-width="1.1" fill="none" stroke-linejoin="round" stroke-linecap="round"/>
<path d="M345.3,127.4 L347.3,126.3 L349.4,126.5 L351.4,124.8 L353.4,124.8 L355.5,122.2 L357.5,126.5 L359.6,122.6 L361.6,124.0 L363.6,118.7 L365.7,121.1 L367.7,116.5 L369.7,112.4 L371.8,106.1 L373.8,105.2 L375.8,96.4 L377.9,91.5 L379.9,83.3 L381.9,73.2 L384.0,63.3" stroke="#1f78f5" stroke-width="1.1" fill="none" stroke-linejoin="round" stroke-linecap="round"/>
<path d="M345.3,127.4 L347.3,126.8 L349.3,122.4 L351.3,123.1 L353.2,123.3 L355.2,119.8 L357.2,118.6 L359.2,125.3 L361.2,123.3 L363.2,119.1 L365.2,120.9 L367.1,119.8 L369.1,119.0 L371.1,115.5 L373.1,107.4 L375.1,100.1 L377.1,94.4 L379.0,91.5 L381.0,87.6 L383.0,77.2 L385.0,66.8" stroke="#1f78f5" stroke-width="1.1" fill="none" stroke-linejoin="round" stroke-linecap="round"/>
<path d="M345.3,127.4 L347.3,127.0 L349.4,124.7 L351.4,123.7 L353.4,122.2 L355.5,124.6 L357.5,120.0 L359.6,120.5 L361.6,125.6 L363.6,124.2 L365.7,119.2 L367.7,122.0 L369.7,115.4 L371.8,115.9 L373.8,111.4 L375.8,107.4 L377.9,106.2 L379.9,100.1 L381.9,93.9 L384.0,83.5 L386.0,76.4" stroke="#1f78f5" stroke-width="1.1" fill="none" stroke-linejoin="round" stroke-linecap="round"/>
<path d="M345.3,127.4 L347.3,126.0 L349.4,125.3 L351.4,122.9 L353.4,119.0 L355.5,121.4 L357.5,121.1 L359.6,118.8 L361.6,117.8 L363.6,118.2 L365.7,119.2 L367.7,116.2 L369.7,111.7 L371.8,109.8 L373.8,108.3 L375.8,106.4 L377.9,102.4 L379.9,95.5 L381.9,92.0 L384.0,90.8 L386.0,80.3 L388.1,75.5" stroke="#1f78f5" stroke-width="1.1" fill="none" stroke-linejoin="round" stroke-linecap="round"/>
<path d="M345.3,127.4 L347.4,124.5 L349.5,124.0 L351.6,121.0 L353.6,122.5 L355.7,124.6 L357.8,123.0 L359.9,123.6 L362.0,119.2 L364.1,120.7 L366.2,121.1 L368.3,119.4 L370.3,121.4 L372.4,116.3 L374.5,112.3 L376.6,111.1 L378.7,108.0 L380.8,101.9 L382.9,96.8 L385.0,87.7 L387.0,81.5" stroke="#1f78f5" stroke-width="1.1" fill="none" stroke-linejoin="round" stroke-linecap="round"/>
<path d="M345.3,127.4 L347.3,126.0 L349.4,124.7 L351.4,124.1 L353.4,121.9 L355.5,125.0 L357.5,126.6 L359.6,122.2 L361.6,121.0 L363.6,121.0 L365.7,115.2 L367.7,114.9 L369.7,112.6 L371.8,108.6 L373.8,100.4 L375.8,103.0 L377.9,96.0 L379.9,91.7 L381.9,87.0 L384.0,79.0" stroke="#1f78f5" stroke-width="1.1" fill="none" stroke-linejoin="round" stroke-linecap="round"/>
<path d="M345.3,127.4 L347.3,125.8 L349.4,123.3 L351.4,124.2 L353.4,121.9 L355.5,121.2 L357.5,119.3 L359.6,123.0 L361.6,120.6 L363.6,116.4 L365.7,114.7 L367.7,116.8 L369.7,111.9 L371.8,107.1 L373.8,106.1 L375.8,100.1 L377.9,95.6 L379.9,88.4 L381.9,86.3" stroke="#1f78f5" stroke-width="1.1" fill="none" stroke-linejoin="round" stroke-linecap="round"/>
<path d="M345.3,127.4 L355.5,125.4 L365.7,122.3 L371.8,120.3 L376.9,116.7 L383.0,110.1 L388.1,95.3 L391.1,81.1 L393.8,63.3 L395.2,51.6" stroke="#1f78f5" stroke-width="1.1" fill="none" stroke-linejoin="round" stroke-linecap="round"/>
<path d="M345.3,127.4 L357.5,125.9 L369.7,123.3 L379.9,118.2 L386.0,110.1 L390.1,95.3 L393.1,78.0 L394.6,62.8 L396.2,82.6 L398.2,84.1 L400.3,74.5 L402.6,65.3" stroke="#1f78f5" stroke-width="1.1" fill="none" stroke-linejoin="round" stroke-linecap="round"/>
<path d="M345.3,127.4 L357.5,126.4 L367.7,124.3 L376.9,122.8 L385.0,114.7 L389.7,118.2 L396.2,114.7 L401.8,109.1 L404.3,108.6 L405.1,90.8 L410.5,88.2 L413.2,74.5 L415.5,54.6" stroke="#1f78f5" stroke-width="1.1" fill="none" stroke-linejoin="round" stroke-linecap="round"/>
<path d="M345.3,127.4 L359.6,125.9 L371.8,124.9 L381.9,121.3 L388.1,116.7 L392.9,117.2 L397.8,112.6 L403.3,105.5 L404.3,93.8 L409.1,89.7 L412.5,76.5 L415.5,54.6" stroke="#1f78f5" stroke-width="1.1" fill="none" stroke-linejoin="round" stroke-linecap="round"/>
<path d="M345.3,127.4 L355.5,126.4 L371.8,124.3 L381.9,122.8 L386.0,124.3 L389.7,127.4 L404.3,126.1 L409.1,124.5 L415.5,126.1 L421.6,126.9 L440.0,127.4" stroke="#1f78f5" stroke-width="1.1" fill="none" stroke-linejoin="round" stroke-linecap="round"/>
<path d="M345.3,127.4 L360.6,126.4 L370.8,124.9 L377.9,125.4 L386.0,127.4 L439.0,127.4" stroke="#1f78f5" stroke-width="1.1" fill="none" stroke-linejoin="round" stroke-linecap="round"/>
<line x1="494.20" y1="25.10" x2="494.20" y2="127.90" stroke="#555" stroke-width="1"/>
<line x1="493.70" y1="127.40" x2="596.50" y2="127.40" stroke="#555" stroke-width="1"/>
<line x1="494.20" y1="127.40" x2="494.20" y2="131.90" stroke="#555" stroke-width="1"/>
<text transform="translate(494.2 143.7) scale(1.082 1)" font-size="9.84" text-anchor="middle" fill="#3a3a3a">0</text>
<line x1="514.56" y1="127.40" x2="514.56" y2="131.90" stroke="#555" stroke-width="1"/>
<text transform="translate(514.6 143.7) scale(1.082 1)" font-size="9.84" text-anchor="middle" fill="#3a3a3a">20</text>
<line x1="534.92" y1="127.40" x2="534.92" y2="131.90" stroke="#555" stroke-width="1"/>
<text transform="translate(534.9 143.7) scale(1.082 1)" font-size="9.84" text-anchor="middle" fill="#3a3a3a">40</text>
<line x1="555.28" y1="127.40" x2="555.28" y2="131.90" stroke="#555" stroke-width="1"/>
<text transform="translate(555.3 143.7) scale(1.082 1)" font-size="9.84" text-anchor="middle" fill="#3a3a3a">60</text>
<line x1="575.64" y1="127.40" x2="575.64" y2="131.90" stroke="#555" stroke-width="1"/>
<text transform="translate(575.6 143.7) scale(1.082 1)" font-size="9.84" text-anchor="middle" fill="#3a3a3a">80</text>
<line x1="596.00" y1="127.40" x2="596.00" y2="131.90" stroke="#555" stroke-width="1"/>
<text transform="translate(596.0 143.7) scale(1.082 1)" font-size="9.84" text-anchor="middle" fill="#3a3a3a">100</text>
<line x1="488.70" y1="127.40" x2="494.20" y2="127.40" stroke="#555" stroke-width="1"/>
<text transform="translate(484.2 130.8) scale(1.082 1)" font-size="9.84" text-anchor="end" fill="#3a3a3a">0</text>
<line x1="488.70" y1="101.95" x2="494.20" y2="101.95" stroke="#555" stroke-width="1"/>
<text transform="translate(484.2 105.4) scale(1.082 1)" font-size="9.84" text-anchor="end" fill="#3a3a3a">50</text>
<line x1="488.70" y1="76.50" x2="494.20" y2="76.50" stroke="#555" stroke-width="1"/>
<text transform="translate(484.2 79.9) scale(1.082 1)" font-size="9.84" text-anchor="end" fill="#3a3a3a">100</text>
<line x1="488.70" y1="51.05" x2="494.20" y2="51.05" stroke="#555" stroke-width="1"/>
<text transform="translate(484.2 54.4) scale(1.082 1)" font-size="9.84" text-anchor="end" fill="#3a3a3a">150</text>
<line x1="488.70" y1="25.60" x2="494.20" y2="25.60" stroke="#555" stroke-width="1"/>
<text transform="translate(484.2 29.0) scale(1.082 1)" font-size="9.84" text-anchor="end" fill="#3a3a3a">200</text>
<text transform="translate(545.1 11.4) scale(0.957 1)" font-size="10.81" text-anchor="middle" fill="#222">EP2<tspan dy="-3.0" font-size="8.80" letter-spacing="0.45">-/-</tspan><tspan dy="3.0" font-size="1">&#160;</tspan>EP4<tspan dy="-3.0" font-size="8.80" letter-spacing="0.45">-/-</tspan><tspan dy="3.0" font-size="1">&#160;</tspan></text>
<text transform="translate(545.1 159.7) scale(1.040 1)" font-size="10.62" text-anchor="middle" fill="#222">Time (days)</text>
<path d="M494.2,127.4 L496.2,122.8 L498.3,120.3 L500.3,116.0 L502.3,120.6 L504.4,117.6 L506.4,112.4 L508.5,111.3 L510.5,102.8 L512.5,99.0 L514.6,81.5 L516.6,61.3" stroke="#4f4f4f" stroke-width="1.15" fill="none" stroke-linejoin="round" stroke-linecap="round"/>
<path d="M494.2,127.4 L496.2,126.6 L498.3,123.8 L500.3,121.5 L502.3,115.8 L504.4,114.9 L506.4,116.5 L508.5,106.0 L510.5,103.7 L512.5,89.5 L514.6,80.2 L516.6,64.7 L518.6,40.6" stroke="#4f4f4f" stroke-width="1.15" fill="none" stroke-linejoin="round" stroke-linecap="round"/>
<path d="M494.2,127.4 L496.3,124.0 L498.4,122.3 L500.4,123.5 L502.5,118.4 L504.6,120.9 L506.7,117.5 L508.7,116.8 L510.8,103.8 L512.9,96.2 L515.0,81.6 L517.1,66.9 L519.1,52.0" stroke="#4f4f4f" stroke-width="1.15" fill="none" stroke-linejoin="round" stroke-linecap="round"/>
<path d="M494.2,127.4 L496.2,127.1 L498.1,126.4 L500.1,124.2 L502.1,121.3 L504.0,124.8 L506.0,117.8 L507.9,117.9 L509.9,114.4 L511.9,105.4 L513.8,102.1 L515.8,96.1 L517.8,86.0 L519.7,74.0 L521.7,64.0" stroke="#4f4f4f" stroke-width="1.15" fill="none" stroke-linejoin="round" stroke-linecap="round"/>
<path d="M494.2,127.4 L496.2,125.3 L498.3,123.5 L500.3,126.9 L502.3,121.6 L504.4,124.3 L506.4,121.8 L508.5,124.9 L510.5,122.1 L512.5,117.4 L514.6,106.0 L516.6,105.6 L518.6,92.5 L520.7,80.4 L522.7,70.8" stroke="#4f4f4f" stroke-width="1.15" fill="none" stroke-linejoin="round" stroke-linecap="round"/>
<path d="M494.2,127.4 L496.2,125.3 L498.3,122.2 L500.3,123.7 L502.3,118.8 L504.4,118.3 L506.4,117.4 L508.5,122.7 L510.5,112.7 L512.5,115.5 L514.6,107.7 L516.6,98.0 L518.6,86.1 L520.7,79.5 L522.7,61.3 L524.7,49.1" stroke="#4f4f4f" stroke-width="1.15" fill="none" stroke-linejoin="round" stroke-linecap="round"/>
<path d="M494.2,127.4 L496.2,126.7 L498.1,125.6 L500.1,123.8 L502.1,119.8 L504.1,117.0 L506.0,122.7 L508.0,121.9 L510.0,111.8 L512.0,112.0 L513.9,108.7 L515.9,104.6 L517.9,95.1 L519.8,85.5 L521.8,79.6 L523.8,69.7 L525.8,57.6" stroke="#4f4f4f" stroke-width="1.15" fill="none" stroke-linejoin="round" stroke-linecap="round"/>
<path d="M494.2,127.4 L496.3,126.1 L498.4,123.4 L500.5,126.1 L502.6,122.0 L504.7,119.7 L506.8,121.6 L508.9,119.0 L511.0,122.5 L513.1,116.8 L515.2,115.0 L517.3,104.0 L519.4,101.6 L521.5,91.7 L523.6,76.9 L525.7,65.6 L527.8,53.6" stroke="#4f4f4f" stroke-width="1.15" fill="none" stroke-linejoin="round" stroke-linecap="round"/>
<path d="M494.2,127.4 L496.2,124.4 L498.2,123.0 L500.1,121.9 L502.1,120.0 L504.1,122.3 L506.1,120.8 L508.1,115.5 L510.0,114.7 L512.0,115.3 L514.0,113.3 L516.0,110.3 L518.0,106.6 L519.9,98.0 L521.9,85.1 L523.9,74.0 L525.9,66.0 L527.9,48.5 L529.8,34.8" stroke="#4f4f4f" stroke-width="1.15" fill="none" stroke-linejoin="round" stroke-linecap="round"/>
<path d="M494.2,127.4 L496.2,123.8 L498.3,122.6 L500.3,118.1 L502.3,119.6 L504.4,118.8 L506.4,116.7 L508.5,117.1 L510.5,119.4 L512.5,112.2 L514.6,111.7 L516.6,108.0 L518.6,106.8 L520.7,95.0 L522.7,88.1 L524.7,73.3 L526.8,61.3 L528.8,44.9" stroke="#4f4f4f" stroke-width="1.15" fill="none" stroke-linejoin="round" stroke-linecap="round"/>
<path d="M494.2,127.4 L496.2,124.9 L498.3,120.7 L500.3,117.0 L502.3,114.7 L504.4,118.7 L506.4,115.0 L508.5,114.5 L510.5,114.7 L512.5,110.1 L514.6,106.7 L516.6,105.1 L518.6,98.1 L520.7,92.2 L522.7,75.7 L524.7,61.5 L526.8,49.0" stroke="#4f4f4f" stroke-width="1.15" fill="none" stroke-linejoin="round" stroke-linecap="round"/>
<path d="M494.2,127.4 L496.3,123.6 L498.4,123.1 L500.5,117.2 L502.6,117.8 L504.7,117.3 L506.9,119.0 L509.0,116.4 L511.1,113.2 L513.2,111.4 L515.3,106.4 L517.4,106.3 L519.5,97.8 L521.6,86.2 L523.7,74.4" stroke="#4f4f4f" stroke-width="1.15" fill="none" stroke-linejoin="round" stroke-linecap="round"/>
<path d="M494.2,127.4 L496.2,124.2 L498.3,124.0 L500.3,119.3 L502.3,119.9 L504.4,121.1 L506.4,118.9 L508.5,114.4 L510.5,111.2 L512.5,105.2 L514.6,99.0 L516.6,86.4 L518.6,76.4 L520.7,62.9" stroke="#4f4f4f" stroke-width="1.15" fill="none" stroke-linejoin="round" stroke-linecap="round"/>
<path d="M494.2,127.4 L496.2,124.4 L498.1,126.4 L500.1,123.0 L502.0,123.1 L504.0,122.2 L505.9,123.5 L507.9,115.1 L509.8,114.6 L511.8,110.8 L513.7,97.2 L515.7,89.6 L517.6,71.3" stroke="#4f4f4f" stroke-width="1.15" fill="none" stroke-linejoin="round" stroke-linecap="round"/>
<path d="M494.2,127.4 L496.2,123.4 L498.2,121.1 L500.1,120.5 L502.1,117.0 L504.1,118.0 L506.1,119.6 L508.1,120.2 L510.0,114.5 L512.0,112.0 L514.0,105.1 L516.0,100.3 L518.0,97.6 L519.9,92.9 L521.9,80.7 L523.9,78.9 L525.9,67.9 L527.9,52.8 L529.8,40.6" stroke="#4f4f4f" stroke-width="1.15" fill="none" stroke-linejoin="round" stroke-linecap="round"/>
<path d="M494.2,127.4 L496.2,125.3 L498.3,125.6 L500.3,124.4 L502.3,124.2 L504.4,124.1 L506.4,121.5 L508.5,124.6 L510.5,122.6 L512.5,124.2 L514.6,124.0 L516.6,122.7 L518.6,119.2 L520.7,117.9 L522.7,117.6 L524.7,111.9 L526.8,107.3 L528.8,97.4 L530.8,91.8" stroke="#2a56d8" stroke-width="1.1" fill="none" stroke-linejoin="round" stroke-linecap="round"/>
<path d="M494.2,127.4 L496.2,125.3 L498.3,123.1 L500.3,121.8 L502.3,123.1 L504.4,120.4 L506.4,122.2 L508.5,120.8 L510.5,121.8 L512.5,122.4 L514.6,122.8 L516.6,122.4 L518.6,123.2 L520.7,123.4 L522.7,117.6 L524.7,114.1 L526.8,108.1 L528.8,103.1 L530.8,95.7 L532.9,86.5" stroke="#2a56d8" stroke-width="1.1" fill="none" stroke-linejoin="round" stroke-linecap="round"/>
<path d="M494.2,127.4 L496.2,126.2 L498.3,125.7 L500.3,124.5 L502.3,122.7 L504.4,124.0 L506.4,123.0 L508.5,122.2 L510.5,123.3 L512.5,124.7 L514.6,122.8 L516.6,124.1 L518.6,123.8 L520.7,122.6 L522.7,119.6 L524.7,118.4 L526.8,112.1 L528.8,106.7 L530.8,105.3 L532.9,98.9 L534.9,94.3" stroke="#2a56d8" stroke-width="1.1" fill="none" stroke-linejoin="round" stroke-linecap="round"/>
<path d="M494.2,127.4 L496.2,126.1 L498.3,125.2 L500.3,125.0 L502.3,126.7 L504.4,125.6 L506.4,123.3 L508.5,123.3 L510.5,123.7 L512.5,126.7 L514.6,123.4 L516.6,125.9 L518.6,124.0 L520.7,125.7 L522.7,119.1 L524.7,117.9 L526.8,113.7 L528.8,112.1 L530.8,105.4 L532.9,100.5 L534.9,94.9 L537.0,89.2" stroke="#2a56d8" stroke-width="1.1" fill="none" stroke-linejoin="round" stroke-linecap="round"/>
<path d="M494.2,127.4 L496.2,127.0 L498.3,126.6 L500.3,124.1 L502.3,126.0 L504.4,125.7 L506.4,126.5 L508.5,123.6 L510.5,124.0 L512.5,124.1 L514.6,126.7 L516.6,124.6 L518.6,124.3 L520.7,124.1 L522.7,122.4 L524.7,114.5 L526.8,115.5 L528.8,110.4 L530.8,105.6 L532.9,98.0 L534.9,94.0 L537.0,84.7 L539.0,76.5" stroke="#2a56d8" stroke-width="1.1" fill="none" stroke-linejoin="round" stroke-linecap="round"/>
<path d="M494.2,127.4 L496.3,127.3 L498.3,126.5 L500.4,124.4 L502.5,125.8 L504.5,126.0 L506.6,125.0 L508.6,126.9 L510.7,127.4 L512.8,125.8 L514.8,123.8 L516.9,124.4 L519.0,125.9 L521.0,122.1 L523.1,118.9 L525.1,118.9 L527.2,113.5 L529.3,110.1 L531.3,105.4 L533.4,98.9 L535.5,92.4 L537.5,83.9 L539.6,77.0 L541.6,65.3" stroke="#2a56d8" stroke-width="1.1" fill="none" stroke-linejoin="round" stroke-linecap="round"/>
<path d="M494.2,127.4 L496.2,125.8 L498.2,126.0 L500.2,122.2 L502.3,123.7 L504.3,122.5 L506.3,122.1 L508.3,123.3 L510.3,123.5 L512.3,122.7 L514.4,124.3 L516.4,120.2 L518.4,122.9 L520.4,117.5 L522.4,118.3 L524.4,115.1 L526.5,111.6 L528.5,109.9 L530.5,105.6 L532.5,99.7 L534.5,94.2 L536.5,86.6 L538.5,80.3 L540.6,79.2 L542.6,70.5 L544.6,64.3" stroke="#2a56d8" stroke-width="1.1" fill="none" stroke-linejoin="round" stroke-linecap="round"/>
<path d="M494.2,127.4 L496.2,125.7 L498.3,125.6 L500.3,126.2 L502.3,126.5 L504.4,125.6 L506.4,122.5 L508.5,126.2 L510.5,124.5 L512.5,125.1 L514.6,125.4 L516.6,122.7 L518.6,125.0 L520.7,121.1 L522.7,119.7 L524.7,116.1 L526.8,115.4 L528.8,110.1 L530.8,108.5 L532.9,103.1 L534.9,97.7 L537.0,90.9 L539.0,84.4 L541.0,81.7 L543.1,72.4" stroke="#2a56d8" stroke-width="1.1" fill="none" stroke-linejoin="round" stroke-linecap="round"/>
<path d="M494.2,127.4 L496.2,125.8 L498.3,125.0 L500.3,121.3 L502.3,123.0 L504.4,124.2 L506.4,124.4 L508.5,124.5 L510.5,121.0 L512.5,124.2 L514.6,121.5 L516.6,120.9 L518.6,120.0 L520.7,120.5 L522.7,121.7 L524.7,119.7 L526.8,117.3 L528.8,116.4 L530.8,116.1 L532.9,111.0 L534.9,111.4 L537.0,107.2 L539.0,100.2 L541.0,99.2 L543.1,96.4 L545.1,89.6 L547.1,86.7" stroke="#2a56d8" stroke-width="1.1" fill="none" stroke-linejoin="round" stroke-linecap="round"/>
<path d="M494.2,127.4 L496.2,127.4 L498.3,126.9 L500.3,124.4 L502.3,126.8 L504.4,124.0 L506.4,123.9 L508.5,126.2 L510.5,123.2 L512.5,124.4 L514.6,125.8 L516.6,126.3 L518.6,123.8 L520.7,119.5 L522.7,118.8 L524.7,117.7 L526.8,113.6 L528.8,109.6 L530.8,107.3 L532.9,101.2 L534.9,99.4 L537.0,90.7 L539.0,89.1 L541.0,84.3 L543.1,76.5 L545.1,71.4" stroke="#2a56d8" stroke-width="1.1" fill="none" stroke-linejoin="round" stroke-linecap="round"/>
<path d="M494.2,127.4 L496.2,126.3 L498.2,124.3 L500.2,125.2 L502.2,122.6 L504.1,122.9 L506.1,124.0 L508.1,121.3 L510.1,126.0 L512.1,121.8 L514.1,125.5 L516.1,122.2 L518.1,125.6 L520.1,125.6 L522.1,122.4 L524.0,118.8 L526.0,120.4 L528.0,117.0 L530.0,113.7 L532.0,111.9 L534.0,106.3 L536.0,104.4 L538.0,96.9" stroke="#2a56d8" stroke-width="1.1" fill="none" stroke-linejoin="round" stroke-linecap="round"/>
<path d="M494.2,127.4 L496.3,127.1 L498.4,126.9 L500.5,124.0 L502.5,124.6 L504.6,122.2 L506.7,123.1 L508.8,126.3 L510.9,122.2 L513.0,122.1 L515.1,122.8 L517.2,122.7 L519.2,123.0 L521.3,121.8 L523.4,120.5 L525.5,118.8 L527.6,117.8 L529.7,115.3 L531.8,108.3 L533.9,104.2 L535.9,99.4" stroke="#2a56d8" stroke-width="1.1" fill="none" stroke-linejoin="round" stroke-linecap="round"/>
<path d="M494.2,127.4 L504.4,125.4 L514.6,124.3 L520.7,122.3 L526.8,112.1 L532.9,99.4 L537.0,87.7 L541.0,76.5 L543.1,72.9 L545.1,79.0 L548.2,84.6 L550.2,76.5 L552.2,63.8" stroke="#2a56d8" stroke-width="1.1" fill="none" stroke-linejoin="round" stroke-linecap="round"/>
<path d="M494.2,127.4 L514.6,126.4 L524.7,124.3 L532.9,123.3 L537.0,120.3 L541.0,117.2 L545.1,113.1 L548.2,114.2 L551.2,110.1" stroke="#2a56d8" stroke-width="1.1" fill="none" stroke-linejoin="round" stroke-linecap="round"/>
<path d="M494.2,127.4 L504.4,125.9 L514.6,126.4 L524.7,123.3 L530.8,118.2 L534.9,117.2 L539.0,125.4 L543.1,126.4 L547.1,127.4 L550.2,127.4 L551.2,122.8 L553.2,123.8 L555.3,120.3 L557.3,121.3 L560.4,117.2 L562.4,118.2 L564.4,113.7 L566.5,116.2 L568.5,109.1 L570.5,112.1 L572.6,106.0 L573.6,103.0 L575.6,105.0 L576.7,107.0" stroke="#2a56d8" stroke-width="1.1" fill="none" stroke-linejoin="round" stroke-linecap="round"/>
<path d="M494.2,127.4 L514.6,126.9 L534.9,127.4 L575.6,127.4" stroke="#2a56d8" stroke-width="1.1" fill="none" stroke-linejoin="round" stroke-linecap="round"/>
<text x="0.3" y="203.2" font-size="16" text-anchor="start" fill="#000" font-weight="bold" stroke="#000" stroke-width="0.45">b</text>
<path d="M82.5,220.2 H107.9 V227.3 H110.5 V233.5 H114.0 V247.7 H118.7 V268.1 H122.4 V274.3 H125.1 V281.4 H128.0 V288.5 H130.8 V294.7 H177.8 V301.8" stroke="#2a56d8" stroke-width="2" fill="none" stroke-linejoin="miter"/>
<path d="M82.5,220.2 H100.9 V227.3 H102.8 V240.6 H107.4 V247.7 H111.4 V253.9 H114.0 V261.0 H117.5 V274.3 H120.6 V281.4 H123.2 V294.7 H131.1 V301.8 H144.8 V315.1 H177.8 V315.1" stroke="#1f78f5" stroke-width="2" fill="none" stroke-linejoin="miter"/>
<path d="M82.5,220.2 H97.0 V227.3 H101.3 V240.6 H104.9 V253.9 H106.7 V261.0 H108.8 V274.3 H110.8 V286.5 H112.8 V307.9 H114.7 V315.1 H116.7 V322.2" stroke="#6ecbfa" stroke-width="2" fill="none" stroke-linejoin="miter"/>
<path d="M82.5,220.2 H99.0 V227.3 H100.9 V247.7 H103.5 V261.0 H105.1 V271.2 H110.1 V292.6 H112.8 V300.8 H119.4 V307.9 H122.4 V315.1 H128.3 V322.2" stroke="#7fce6c" stroke-width="2" fill="none" stroke-linejoin="miter"/>
<path d="M82.5,220.2 H82.5 V227.3 H86.3 V233.5 H92.2 V253.9 H94.3 V261.0 H97.0 V268.1 H98.8 V294.7 H100.9 V315.1 H103.9 V322.2" stroke="#4f4f4f" stroke-width="2" fill="none" stroke-linejoin="miter"/>
<line x1="82.50" y1="219.70" x2="82.50" y2="322.70" stroke="#555" stroke-width="1"/>
<line x1="82.00" y1="322.20" x2="184.70" y2="322.20" stroke="#555" stroke-width="1"/>
<line x1="82.50" y1="322.20" x2="82.50" y2="326.70" stroke="#555" stroke-width="1"/>
<text transform="translate(82.5 338.5) scale(1.082 1)" font-size="9.84" text-anchor="middle" fill="#3a3a3a">20</text>
<line x1="107.92" y1="322.20" x2="107.92" y2="326.70" stroke="#555" stroke-width="1"/>
<text transform="translate(107.9 338.5) scale(1.082 1)" font-size="9.84" text-anchor="middle" fill="#3a3a3a">40</text>
<line x1="133.35" y1="322.20" x2="133.35" y2="326.70" stroke="#555" stroke-width="1"/>
<text transform="translate(133.3 338.5) scale(1.082 1)" font-size="9.84" text-anchor="middle" fill="#3a3a3a">60</text>
<line x1="158.77" y1="322.20" x2="158.77" y2="326.70" stroke="#555" stroke-width="1"/>
<text transform="translate(158.8 338.5) scale(1.082 1)" font-size="9.84" text-anchor="middle" fill="#3a3a3a">80</text>
<line x1="184.20" y1="322.20" x2="184.20" y2="326.70" stroke="#555" stroke-width="1"/>
<text transform="translate(184.2 338.5) scale(1.082 1)" font-size="9.84" text-anchor="middle" fill="#3a3a3a">100</text>
<line x1="77.00" y1="322.20" x2="82.50" y2="322.20" stroke="#555" stroke-width="1"/>
<text transform="translate(72.5 325.6) scale(1.082 1)" font-size="9.84" text-anchor="end" fill="#3a3a3a">0</text>
<line x1="77.00" y1="301.80" x2="82.50" y2="301.80" stroke="#555" stroke-width="1"/>
<text transform="translate(72.5 305.2) scale(1.082 1)" font-size="9.84" text-anchor="end" fill="#3a3a3a">20</text>
<line x1="77.00" y1="281.40" x2="82.50" y2="281.40" stroke="#555" stroke-width="1"/>
<text transform="translate(72.5 284.8) scale(1.082 1)" font-size="9.84" text-anchor="end" fill="#3a3a3a">40</text>
<line x1="77.00" y1="261.00" x2="82.50" y2="261.00" stroke="#555" stroke-width="1"/>
<text transform="translate(72.5 264.4) scale(1.082 1)" font-size="9.84" text-anchor="end" fill="#3a3a3a">60</text>
<line x1="77.00" y1="240.60" x2="82.50" y2="240.60" stroke="#555" stroke-width="1"/>
<text transform="translate(72.5 244.0) scale(1.082 1)" font-size="9.84" text-anchor="end" fill="#3a3a3a">80</text>
<line x1="77.00" y1="220.20" x2="82.50" y2="220.20" stroke="#555" stroke-width="1"/>
<text transform="translate(72.5 223.6) scale(1.082 1)" font-size="9.84" text-anchor="end" fill="#3a3a3a">100</text>
<text transform="translate(133.3 354.5) scale(1.040 1)" font-size="10.62" text-anchor="middle" fill="#222">Time (days)</text>
<text transform="translate(48.8 271.5) rotate(-90) scale(1.040 1)" font-size="10.33" text-anchor="middle" fill="#222">Survival (%)</text>
<line x1="23.30" y1="385.30" x2="32.90" y2="385.30" stroke="#4f4f4f" stroke-width="2"/>
<text transform="translate(39.2 389.0) scale(1.040 1)" font-size="10.52" text-anchor="start" fill="#222">teLuc only (0/15 CR)</text>
<line x1="23.30" y1="405.90" x2="32.90" y2="405.90" stroke="#7fce6c" stroke-width="2"/>
<text transform="translate(39.2 409.6) scale(1.040 1)" font-size="10.52" text-anchor="start" fill="#222">Mock (0/15 CR)</text>
<line x1="23.30" y1="427.20" x2="32.90" y2="427.20" stroke="#6ecbfa" stroke-width="2"/>
<text transform="translate(39.2 430.9) scale(1.040 1)" font-size="10.52" text-anchor="start" fill="#222">Ep2<tspan dy="-3.0" font-size="8.80" letter-spacing="0.45">-/-</tspan><tspan dy="3.0" font-size="1">&#160;</tspan>&#160;(0/15 CR)</text>
<line x1="23.30" y1="449.00" x2="32.90" y2="449.00" stroke="#1f78f5" stroke-width="2"/>
<text transform="translate(39.2 452.7) scale(1.040 1)" font-size="10.52" text-anchor="start" fill="#222">Ep4<tspan dy="-3.0" font-size="8.80" letter-spacing="0.45">-/-</tspan><tspan dy="3.0" font-size="1">&#160;</tspan>&#160;(1/15 CR)</text>
<line x1="23.30" y1="471.40" x2="32.90" y2="471.40" stroke="#2a56d8" stroke-width="2"/>
<text transform="translate(39.2 475.1) scale(1.040 1)" font-size="10.52" text-anchor="start" fill="#222">Ep2-<tspan dy="-3.0" font-size="8.80" letter-spacing="0.45">-/-</tspan><tspan dy="3.0" font-size="1">&#160;</tspan>Ep4<tspan dy="-3.0" font-size="8.80" letter-spacing="0.45">-/-</tspan><tspan dy="3.0" font-size="1">&#160;</tspan>&#160;(3/15 CR)</text>
<path d="M143.2,386.1 H151.6 V408.7 H143.2" stroke="#444" stroke-width="0.8" fill="none"/>
<text transform="translate(154.2 399.6) scale(1.040 1)" font-size="7.62" text-anchor="start" fill="#222">&lt;0.0001</text>
<path d="M160.4,408.7 H168.8 V432.8 H160.4" stroke="#444" stroke-width="0.8" fill="none"/>
<text transform="translate(171.3 423.4) scale(1.040 1)" font-size="7.24" text-anchor="start" fill="#222">NS</text>
<path d="M177.9,408.7 H185.9 V457.6 H177.9" stroke="#444" stroke-width="0.8" fill="none"/>
<text transform="translate(187.7 440.6) scale(1.040 1)" font-size="7.72" text-anchor="start" fill="#222">0.0370</text>
<path d="M208.2,408.0 H217.3 V483.5 H208.2" stroke="#444" stroke-width="0.8" fill="none"/>
<text transform="translate(219.1 454.0) scale(1.040 1)" font-size="7.72" text-anchor="start" fill="#222">0.0006</text>
<text x="289.2" y="206.7" font-size="16" text-anchor="start" fill="#000" font-weight="bold" stroke="#000" stroke-width="0.45">c</text>
<line x1="345.20" y1="220.10" x2="345.20" y2="322.80" stroke="#555" stroke-width="1"/>
<line x1="344.70" y1="322.30" x2="447.00" y2="322.30" stroke="#555" stroke-width="1"/>
<line x1="345.20" y1="322.30" x2="345.20" y2="326.80" stroke="#555" stroke-width="1"/>
<text transform="translate(345.2 338.6) scale(1.082 1)" font-size="9.84" text-anchor="middle" fill="#3a3a3a">0</text>
<line x1="365.46" y1="322.30" x2="365.46" y2="326.80" stroke="#555" stroke-width="1"/>
<text transform="translate(365.5 338.6) scale(1.082 1)" font-size="9.84" text-anchor="middle" fill="#3a3a3a">20</text>
<line x1="385.72" y1="322.30" x2="385.72" y2="326.80" stroke="#555" stroke-width="1"/>
<text transform="translate(385.7 338.6) scale(1.082 1)" font-size="9.84" text-anchor="middle" fill="#3a3a3a">40</text>
<line x1="405.98" y1="322.30" x2="405.98" y2="326.80" stroke="#555" stroke-width="1"/>
<text transform="translate(406.0 338.6) scale(1.082 1)" font-size="9.84" text-anchor="middle" fill="#3a3a3a">60</text>
<line x1="426.24" y1="322.30" x2="426.24" y2="326.80" stroke="#555" stroke-width="1"/>
<text transform="translate(426.2 338.6) scale(1.082 1)" font-size="9.84" text-anchor="middle" fill="#3a3a3a">80</text>
<line x1="446.50" y1="322.30" x2="446.50" y2="326.80" stroke="#555" stroke-width="1"/>
<text transform="translate(446.5 338.6) scale(1.082 1)" font-size="9.84" text-anchor="middle" fill="#3a3a3a">100</text>
<line x1="339.70" y1="322.30" x2="345.20" y2="322.30" stroke="#555" stroke-width="1"/>
<text transform="translate(335.2 325.7) scale(1.082 1)" font-size="9.84" text-anchor="end" fill="#3a3a3a">0</text>
<line x1="339.70" y1="296.88" x2="345.20" y2="296.88" stroke="#555" stroke-width="1"/>
<text transform="translate(335.2 300.3) scale(1.082 1)" font-size="9.84" text-anchor="end" fill="#3a3a3a">50</text>
<line x1="339.70" y1="271.45" x2="345.20" y2="271.45" stroke="#555" stroke-width="1"/>
<text transform="translate(335.2 274.8) scale(1.082 1)" font-size="9.84" text-anchor="end" fill="#3a3a3a">100</text>
<line x1="339.70" y1="246.03" x2="345.20" y2="246.03" stroke="#555" stroke-width="1"/>
<text transform="translate(335.2 249.4) scale(1.082 1)" font-size="9.84" text-anchor="end" fill="#3a3a3a">150</text>
<line x1="339.70" y1="220.60" x2="345.20" y2="220.60" stroke="#555" stroke-width="1"/>
<text transform="translate(335.2 224.0) scale(1.082 1)" font-size="9.84" text-anchor="end" fill="#3a3a3a">200</text>
<text transform="translate(395.8 214.8) scale(1.019 1)" font-size="10.81" text-anchor="middle" fill="#222">Mock</text>
<text transform="translate(395.8 354.6) scale(1.040 1)" font-size="10.62" text-anchor="middle" fill="#222">Time (days)</text>
<text transform="translate(307.6 271.8) rotate(-90) scale(1.040 1)" font-size="10.62" text-anchor="middle" fill="#222">Tumour size (mm<tspan dy="-5.2" font-size="7.6">2</tspan><tspan dy="5.2">)</tspan></text>
<path d="M345.2,322.3 L347.2,318.2 L349.3,312.3 L351.3,309.9 L353.3,304.5 L355.3,300.8 L357.4,303.8 L359.4,301.9 L361.4,288.4 L363.4,293.2 L365.5,290.7 L367.5,277.8 L369.5,281.6" stroke="#4f4f4f" stroke-width="1.1" fill="none" stroke-linejoin="round" stroke-linecap="round"/>
<path d="M345.2,322.3 L347.2,318.9 L349.3,313.5 L351.3,312.9 L353.3,308.8 L355.3,310.5 L357.4,303.1 L359.4,297.7 L361.4,299.0 L363.4,293.5 L365.5,291.9 L367.5,297.4 L369.5,285.7 L371.5,285.4 L373.6,284.2" stroke="#4f4f4f" stroke-width="1.1" fill="none" stroke-linejoin="round" stroke-linecap="round"/>
<path d="M345.2,322.3 L347.3,320.7 L349.4,319.8 L351.5,311.6 L353.6,311.7 L355.6,306.9 L357.7,302.5 L359.8,301.2 L361.9,296.0 L364.0,299.3 L366.1,291.4 L368.2,293.3 L370.3,284.1 L372.4,282.2 L374.5,289.8 L376.5,286.6 L378.6,279.1" stroke="#4f4f4f" stroke-width="1.1" fill="none" stroke-linejoin="round" stroke-linecap="round"/>
<path d="M345.2,322.3 L347.3,321.8 L349.4,315.5 L351.4,316.8 L353.5,313.4 L355.6,314.1 L357.7,310.4 L359.8,309.6 L361.9,308.0 L363.9,303.5 L366.0,301.5 L368.1,295.4 L370.2,296.2 L372.3,290.9 L374.4,289.9 L376.4,286.1 L378.5,288.4 L380.6,293.1 L382.7,286.7" stroke="#4f4f4f" stroke-width="1.1" fill="none" stroke-linejoin="round" stroke-linecap="round"/>
<path d="M345.2,322.3 L347.2,318.8 L349.3,316.1 L351.3,314.3 L353.3,314.4 L355.3,311.2 L357.4,313.1 L359.4,305.7 L361.4,305.7 L363.4,306.4 L365.5,306.7 L367.5,295.8 L369.5,291.7 L371.5,300.3 L373.6,289.0 L375.6,291.8 L377.6,292.9 L379.6,288.6 L381.7,280.0 L383.7,276.3 L385.7,284.8 L387.7,274.9 L389.8,274.0" stroke="#4f4f4f" stroke-width="1.1" fill="none" stroke-linejoin="round" stroke-linecap="round"/>
<path d="M345.2,322.3 L347.2,322.3 L349.3,317.6 L351.3,318.0 L353.3,312.2 L355.3,309.2 L357.4,310.7 L359.4,304.2 L361.4,308.1 L363.4,308.3 L365.5,300.9 L367.5,304.8 L369.5,300.9 L371.5,296.3 L373.6,291.4 L375.6,295.1 L377.6,294.2 L379.6,281.0 L381.7,285.9 L383.7,275.0 L385.7,273.5 L387.7,277.9 L389.8,274.4 L391.8,271.4" stroke="#4f4f4f" stroke-width="1.1" fill="none" stroke-linejoin="round" stroke-linecap="round"/>
<path d="M345.2,322.3 L347.2,319.5 L349.3,316.4 L351.3,314.4 L353.3,312.5 L355.3,309.9 L357.4,304.6 L359.4,306.9 L361.4,305.8 L363.4,300.3 L365.5,304.6 L367.5,301.9 L369.5,291.0 L371.5,295.2 L373.6,293.0 L375.6,291.8" stroke="#4f4f4f" stroke-width="1.1" fill="none" stroke-linejoin="round" stroke-linecap="round"/>
<path d="M345.2,322.3 L347.3,322.3 L349.4,318.9 L351.5,315.9 L353.5,318.2 L355.6,311.6 L357.7,309.4 L359.8,313.1 L361.9,305.4 L364.0,305.2 L366.1,300.6 L368.1,302.9 L370.2,296.2 L372.3,293.9 L374.4,301.4 L376.5,298.9 L378.6,288.9 L380.7,289.2" stroke="#4f4f4f" stroke-width="1.1" fill="none" stroke-linejoin="round" stroke-linecap="round"/>
<path d="M345.2,322.3 L347.2,317.4 L349.3,319.0 L351.3,315.4 L353.3,312.0 L355.3,311.7 L357.4,309.0 L359.4,307.2 L361.4,304.4 L363.4,299.6 L365.5,300.5 L367.5,297.3 L369.5,289.9 L371.5,297.2 L373.6,287.7 L375.6,283.1 L377.6,286.3 L379.6,285.0 L381.7,274.9 L383.7,276.5" stroke="#4f4f4f" stroke-width="1.1" fill="none" stroke-linejoin="round" stroke-linecap="round"/>
<path d="M345.2,322.3 L347.2,320.1 L349.3,318.0 L351.3,313.8 L353.3,309.1 L355.3,313.0 L357.4,308.8 L359.4,306.8 L361.4,298.2 L363.4,301.5 L365.5,294.0 L367.5,296.9" stroke="#4f4f4f" stroke-width="1.1" fill="none" stroke-linejoin="round" stroke-linecap="round"/>
<path d="M345.2,322.3 L347.2,320.6 L349.3,317.2 L351.3,312.3 L353.3,307.5 L355.3,309.7 L357.4,310.5 L359.4,310.1 L361.4,302.8 L363.4,305.4 L365.5,299.4" stroke="#4f4f4f" stroke-width="1.1" fill="none" stroke-linejoin="round" stroke-linecap="round"/>
<path d="M345.2,322.3 L347.2,319.1 L349.3,316.9 L351.3,319.0 L353.3,316.6 L355.3,310.5 L357.4,309.6 L359.4,305.8 L361.4,308.1 L363.4,308.3 L365.5,304.5 L367.5,296.4 L369.5,300.5 L371.5,297.4 L373.6,294.2 L375.6,291.9 L377.6,289.7 L379.6,280.6 L381.7,288.4 L383.7,288.0 L385.7,279.1" stroke="#4f4f4f" stroke-width="1.1" fill="none" stroke-linejoin="round" stroke-linecap="round"/>
<path d="M345.2,322.3 L349.3,314.7 L353.3,304.5 L356.3,291.8 L359.4,285.7 L363.4,282.6 L367.5,277.6 L369.5,273.5 L371.5,261.3" stroke="#4f4f4f" stroke-width="1.1" fill="none" stroke-linejoin="round" stroke-linecap="round"/>
<path d="M345.2,322.3 L355.3,313.1 L365.5,300.9 L375.6,292.8 L381.7,281.6 L385.7,272.5 L386.7,262.3 L388.8,274.0 L390.8,262.3 L392.8,258.2 L395.8,235.9" stroke="#4f4f4f" stroke-width="1.1" fill="none" stroke-linejoin="round" stroke-linecap="round"/>
<path d="M345.2,322.3 L355.3,314.7 L365.5,305.5 L375.6,296.9 L383.7,284.2 L388.8,272.5 L391.8,255.2 L393.8,257.2 L397.9,235.9" stroke="#4f4f4f" stroke-width="1.1" fill="none" stroke-linejoin="round" stroke-linecap="round"/>
<path d="M345.2,322.3 L347.5,322.3 L349.8,319.4 L352.1,318.7 L354.4,318.7 L356.7,319.5 L359.0,314.9 L361.2,313.8 L363.5,315.2 L365.8,314.5 L368.1,316.1 L370.4,317.7 L372.7,313.5 L375.0,310.6 L377.3,315.1 L379.6,307.0 L381.9,312.0 L384.2,311.2 L386.5,312.4 L388.8,307.0" stroke="#7fce6c" stroke-width="1.0" fill="none" stroke-linejoin="round" stroke-linecap="round"/>
<path d="M345.2,322.3 L347.5,318.6 L349.8,318.0 L352.0,315.8 L354.3,315.7 L356.6,317.8 L358.9,314.8 L361.2,312.4 L363.4,314.1 L365.7,306.2 L368.0,309.8 L370.3,310.6 L372.6,303.2 L374.8,308.9 L377.1,299.5 L379.4,303.2 L381.7,301.0 L383.9,301.9 L386.2,299.3 L388.5,301.2 L390.8,296.9" stroke="#7fce6c" stroke-width="1.0" fill="none" stroke-linejoin="round" stroke-linecap="round"/>
<path d="M345.2,322.3 L347.5,322.3 L349.7,318.4 L352.0,320.3 L354.3,316.3 L356.5,318.5 L358.8,312.6 L361.1,311.9 L363.3,311.6 L365.6,310.3 L367.9,310.6 L370.1,308.2 L372.4,312.7 L374.7,308.3 L376.9,303.7 L379.2,308.9 L381.5,300.5 L383.7,299.8 L386.0,303.6 L388.3,302.9 L390.5,301.0 L392.8,299.4" stroke="#7fce6c" stroke-width="1.0" fill="none" stroke-linejoin="round" stroke-linecap="round"/>
<path d="M345.2,322.3 L347.5,320.8 L349.8,316.4 L352.1,317.6 L354.5,318.0 L356.8,316.3 L359.1,311.0 L361.4,307.5 L363.7,309.5 L366.0,308.1 L368.4,306.2 L370.7,303.0 L373.0,306.5 L375.3,301.4 L377.6,300.5 L379.9,298.5 L382.2,301.7 L384.6,300.4 L386.9,297.3 L389.2,290.1 L391.5,294.7 L393.8,291.8" stroke="#7fce6c" stroke-width="1.0" fill="none" stroke-linejoin="round" stroke-linecap="round"/>
<path d="M345.2,322.3 L347.5,319.9 L349.8,319.3 L352.1,318.8 L354.4,317.5 L356.7,311.7 L359.0,310.3 L361.3,311.4 L363.6,307.7 L365.9,306.2 L368.2,302.8 L370.5,300.6 L372.8,304.0 L375.1,297.0 L377.4,295.7 L379.7,298.0 L382.0,293.6 L384.3,296.2 L386.6,296.0 L388.9,295.9 L391.2,288.1 L393.5,294.0 L395.8,289.2" stroke="#7fce6c" stroke-width="1.0" fill="none" stroke-linejoin="round" stroke-linecap="round"/>
<path d="M345.2,322.3 L347.5,322.3 L349.8,317.5 L352.1,315.9 L354.4,315.6 L356.7,311.9 L358.9,315.0 L361.2,312.2 L363.5,310.4 L365.8,307.8 L368.1,308.2 L370.4,307.6 L372.7,303.7 L375.0,296.9 L377.3,294.3 L379.6,294.8 L381.8,295.9 L384.1,296.5 L386.4,287.7 L388.7,290.5 L391.0,286.8 L393.3,292.2 L395.6,288.7 L397.9,284.2" stroke="#7fce6c" stroke-width="1.0" fill="none" stroke-linejoin="round" stroke-linecap="round"/>
<path d="M345.2,322.3 L347.5,318.6 L349.8,316.7 L352.2,314.2 L354.5,313.7 L356.8,312.8 L359.1,310.1 L361.5,306.6 L363.8,308.5 L366.1,305.2 L368.4,305.5 L370.7,299.9 L373.1,304.7 L375.4,297.2 L377.7,292.9 L380.0,300.4 L382.3,293.1 L384.7,291.0 L387.0,287.3 L389.3,288.5 L391.6,290.2 L394.0,287.2 L396.3,280.0 L398.6,279.0 L400.9,281.6" stroke="#7fce6c" stroke-width="1.0" fill="none" stroke-linejoin="round" stroke-linecap="round"/>
<path d="M345.2,322.3 L347.4,321.4 L349.7,319.5 L351.9,317.4 L354.1,315.7 L356.3,311.0 L358.6,310.8 L360.8,303.5 L363.0,302.6 L365.3,304.6 L367.5,298.9 L369.7,298.6 L371.9,294.8 L374.2,295.3 L376.4,293.5 L378.6,291.1 L380.9,286.8 L383.1,281.2 L385.3,280.6 L387.5,283.4 L389.8,276.5" stroke="#7fce6c" stroke-width="1.0" fill="none" stroke-linejoin="round" stroke-linecap="round"/>
<path d="M345.2,322.3 L347.4,318.9 L349.7,315.9 L351.9,314.1 L354.2,311.9 L356.4,314.7 L358.6,309.9 L360.9,311.0 L363.1,303.9 L365.4,306.9 L367.6,300.4 L369.8,302.9 L372.1,296.8 L374.3,298.9 L376.5,299.9 L378.8,294.7 L381.0,293.7 L383.3,286.0 L385.5,290.5 L387.7,286.7" stroke="#7fce6c" stroke-width="1.0" fill="none" stroke-linejoin="round" stroke-linecap="round"/>
<path d="M345.2,322.3 L347.5,319.6 L349.7,317.4 L352.0,313.4 L354.2,316.4 L356.5,311.7 L358.7,310.8 L361.0,307.5 L363.2,304.0 L365.5,308.0 L367.7,303.1 L370.0,303.3 L372.2,301.5 L374.5,305.2 L376.7,296.3 L379.0,293.3 L381.2,298.3 L383.5,297.4 L385.7,294.3" stroke="#7fce6c" stroke-width="1.0" fill="none" stroke-linejoin="round" stroke-linecap="round"/>
<path d="M345.2,322.3 L347.5,317.2 L349.7,318.8 L352.0,317.1 L354.3,315.4 L356.5,308.9 L358.8,307.3 L361.1,307.8 L363.3,304.7 L365.6,308.4 L367.8,301.1 L370.1,301.4 L372.4,299.1 L374.6,298.9 L376.9,297.2 L379.2,297.5 L381.4,297.8 L383.7,291.8" stroke="#7fce6c" stroke-width="1.0" fill="none" stroke-linejoin="round" stroke-linecap="round"/>
<path d="M345.2,322.3 L347.5,320.2 L349.8,319.3 L352.0,315.3 L354.3,312.9 L356.6,311.9 L358.9,312.3 L361.2,312.7 L363.4,310.2 L365.7,308.1 L368.0,305.4 L370.3,300.7 L372.6,308.4 L374.8,303.2 L377.1,301.8 L379.4,298.4 L381.7,299.4" stroke="#7fce6c" stroke-width="1.0" fill="none" stroke-linejoin="round" stroke-linecap="round"/>
<path d="M345.2,322.3 L347.5,319.1 L349.7,317.5 L352.0,316.2 L354.3,313.4 L356.5,311.8 L358.8,308.4 L361.1,307.3 L363.3,305.2 L365.6,306.4 L367.9,298.7 L370.1,301.1 L372.4,296.8 L374.7,292.4 L376.9,288.7 L379.2,286.2 L381.5,294.0 L383.7,288.6 L386.0,286.3 L388.3,283.2 L390.5,283.5 L392.8,277.6" stroke="#7fce6c" stroke-width="1.0" fill="none" stroke-linejoin="round" stroke-linecap="round"/>
<path d="M345.2,322.3 L347.5,320.0 L349.8,320.1 L352.1,317.2 L354.4,311.8 L356.7,310.8 L359.0,310.5 L361.3,310.9 L363.6,302.9 L365.9,302.7 L368.2,304.7 L370.5,301.7 L372.8,297.0 L375.1,294.6 L377.4,296.7 L379.7,287.8 L382.0,292.2 L384.3,290.9 L386.6,282.9 L388.9,288.0 L391.2,280.7 L393.5,283.6 L395.8,278.6" stroke="#7fce6c" stroke-width="1.0" fill="none" stroke-linejoin="round" stroke-linecap="round"/>
<path d="M345.2,322.3 L347.6,320.6 L349.9,320.9 L352.3,319.4 L354.7,314.9 L357.0,316.9 L359.4,316.1 L361.7,313.6 L364.1,315.6 L366.5,315.8 L368.8,312.9 L371.2,313.1 L373.6,313.0 L375.9,304.2 L378.3,312.7 L380.7,307.0" stroke="#7fce6c" stroke-width="1.0" fill="none" stroke-linejoin="round" stroke-linecap="round"/>
<path d="M345.2,322.3 L347.5,319.4 L349.8,317.3 L352.2,316.9 L354.5,319.6 L356.8,315.5 L359.1,317.6 L361.5,312.3 L363.8,310.3 L366.1,313.1 L368.4,314.4 L370.8,308.1 L373.1,311.6 L375.4,308.3 L377.7,305.7 L380.1,300.1 L382.4,304.4 L384.7,302.0" stroke="#7fce6c" stroke-width="1.0" fill="none" stroke-linejoin="round" stroke-linecap="round"/>
<path d="M345.2,322.3 L347.5,321.7 L349.9,317.0 L352.2,314.9 L354.5,314.7 L356.8,316.0 L359.2,313.7 L361.5,310.7 L363.8,308.1 L366.2,309.2 L368.5,302.8 L370.8,300.7 L373.2,298.3 L375.5,297.0 L377.8,304.3 L380.1,297.1 L382.5,300.8 L384.8,291.0 L387.1,291.1 L389.5,289.6 L391.8,290.8" stroke="#7fce6c" stroke-width="1.0" fill="none" stroke-linejoin="round" stroke-linecap="round"/>
<path d="M345.2,322.3 L347.5,321.8 L349.8,321.0 L352.1,315.8 L354.4,315.4 L356.7,313.8 L359.0,313.4 L361.4,309.6 L363.7,311.8 L366.0,311.2 L368.3,309.3 L370.6,308.6 L372.9,304.1 L375.2,300.1 L377.5,307.2 L379.8,306.0 L382.1,300.2 L384.4,297.3 L386.7,297.9" stroke="#7fce6c" stroke-width="1.0" fill="none" stroke-linejoin="round" stroke-linecap="round"/>
<path d="M345.2,322.3 L355.3,315.2 L365.5,307.0 L375.6,299.9 L383.7,292.8 L387.7,280.6 L390.8,255.2 L391.8,271.4 L393.8,275.5 L397.9,278.6 L401.9,282.6 L405.0,285.7" stroke="#7fce6c" stroke-width="1.1" fill="none" stroke-linejoin="round" stroke-linecap="round"/>
<path d="M345.2,322.3 L355.3,316.2 L363.4,309.1 L369.5,311.1 L375.6,310.1 L379.6,315.2 L382.7,316.7 L385.7,318.2" stroke="#7fce6c" stroke-width="1.1" fill="none" stroke-linejoin="round" stroke-linecap="round"/>
<path d="M345.2,322.3 L357.4,317.2 L367.5,312.1 L375.6,308.1 L381.7,309.1 L387.7,304.0 L392.8,299.9" stroke="#7fce6c" stroke-width="1.1" fill="none" stroke-linejoin="round" stroke-linecap="round"/>
<line x1="494.40" y1="220.10" x2="494.40" y2="322.80" stroke="#555" stroke-width="1"/>
<line x1="493.90" y1="322.30" x2="596.20" y2="322.30" stroke="#555" stroke-width="1"/>
<line x1="494.40" y1="322.30" x2="494.40" y2="326.80" stroke="#555" stroke-width="1"/>
<text transform="translate(494.4 338.6) scale(1.082 1)" font-size="9.84" text-anchor="middle" fill="#3a3a3a">0</text>
<line x1="514.66" y1="322.30" x2="514.66" y2="326.80" stroke="#555" stroke-width="1"/>
<text transform="translate(514.7 338.6) scale(1.082 1)" font-size="9.84" text-anchor="middle" fill="#3a3a3a">20</text>
<line x1="534.92" y1="322.30" x2="534.92" y2="326.80" stroke="#555" stroke-width="1"/>
<text transform="translate(534.9 338.6) scale(1.082 1)" font-size="9.84" text-anchor="middle" fill="#3a3a3a">40</text>
<line x1="555.18" y1="322.30" x2="555.18" y2="326.80" stroke="#555" stroke-width="1"/>
<text transform="translate(555.2 338.6) scale(1.082 1)" font-size="9.84" text-anchor="middle" fill="#3a3a3a">60</text>
<line x1="575.44" y1="322.30" x2="575.44" y2="326.80" stroke="#555" stroke-width="1"/>
<text transform="translate(575.4 338.6) scale(1.082 1)" font-size="9.84" text-anchor="middle" fill="#3a3a3a">80</text>
<line x1="595.70" y1="322.30" x2="595.70" y2="326.80" stroke="#555" stroke-width="1"/>
<text transform="translate(595.7 338.6) scale(1.082 1)" font-size="9.84" text-anchor="middle" fill="#3a3a3a">100</text>
<line x1="488.90" y1="322.30" x2="494.40" y2="322.30" stroke="#555" stroke-width="1"/>
<text transform="translate(484.4 325.7) scale(1.082 1)" font-size="9.84" text-anchor="end" fill="#3a3a3a">0</text>
<line x1="488.90" y1="296.88" x2="494.40" y2="296.88" stroke="#555" stroke-width="1"/>
<text transform="translate(484.4 300.3) scale(1.082 1)" font-size="9.84" text-anchor="end" fill="#3a3a3a">50</text>
<line x1="488.90" y1="271.45" x2="494.40" y2="271.45" stroke="#555" stroke-width="1"/>
<text transform="translate(484.4 274.8) scale(1.082 1)" font-size="9.84" text-anchor="end" fill="#3a3a3a">100</text>
<line x1="488.90" y1="246.03" x2="494.40" y2="246.03" stroke="#555" stroke-width="1"/>
<text transform="translate(484.4 249.4) scale(1.082 1)" font-size="9.84" text-anchor="end" fill="#3a3a3a">150</text>
<line x1="488.90" y1="220.60" x2="494.40" y2="220.60" stroke="#555" stroke-width="1"/>
<text transform="translate(484.4 224.0) scale(1.082 1)" font-size="9.84" text-anchor="end" fill="#3a3a3a">200</text>
<text transform="translate(545.0 214.8) scale(0.957 1)" font-size="10.81" text-anchor="middle" fill="#222">EP2<tspan dy="-3.0" font-size="8.80" letter-spacing="0.45">-/-</tspan><tspan dy="3.0" font-size="1">&#160;</tspan>EP4<tspan dy="-3.0" font-size="8.80" letter-spacing="0.45">-/-</tspan><tspan dy="3.0" font-size="1">&#160;</tspan></text>
<text transform="translate(545.0 354.6) scale(1.040 1)" font-size="10.62" text-anchor="middle" fill="#222">Time (days)</text>
<path d="M494.4,322.3 L496.4,318.2 L498.5,313.8 L500.5,312.9 L502.5,309.2 L504.5,307.8 L506.6,307.4 L508.6,312.0 L510.6,308.5 L512.6,308.2 L514.7,308.4 L516.7,303.4 L518.7,305.7 L520.7,304.5 L522.8,297.0 L524.8,296.8 L526.8,296.2 L528.8,291.2 L530.9,283.3 L532.9,280.6 L534.9,266.5 L536.9,255.2 L539.0,246.0" stroke="#2a56d8" stroke-width="1.0" fill="none" stroke-linejoin="round" stroke-linecap="round"/>
<path d="M494.4,322.3 L496.5,318.0 L498.5,314.6 L500.6,313.3 L502.7,311.4 L504.7,314.4 L506.8,314.9 L508.9,308.8 L510.9,313.1 L513.0,313.3 L515.1,307.5 L517.2,307.7 L519.2,311.9 L521.3,309.0 L523.4,308.1 L525.4,305.9 L527.5,306.2 L529.6,298.0 L531.6,296.9 L533.7,292.0 L535.8,289.6 L537.8,285.2 L539.9,280.1 L542.0,264.9 L544.0,261.3" stroke="#2a56d8" stroke-width="1.0" fill="none" stroke-linejoin="round" stroke-linecap="round"/>
<path d="M494.4,322.3 L496.4,317.7 L498.5,315.2 L500.5,310.8 L502.5,308.9 L504.5,308.0 L506.6,309.3 L508.6,308.1 L510.6,308.4 L512.6,308.2 L514.7,304.9 L516.7,305.7 L518.7,305.0 L520.7,305.1 L522.8,302.7 L524.8,299.6 L526.8,302.3 L528.8,303.0 L530.9,297.6 L532.9,296.6 L534.9,290.4 L536.9,294.6 L539.0,284.0 L541.0,289.5 L543.0,280.7 L545.0,277.8 L547.1,274.8 L549.1,264.4 L551.1,261.2 L553.2,261.2 L555.2,251.8 L557.2,244.2 L559.2,238.4" stroke="#2a56d8" stroke-width="1.0" fill="none" stroke-linejoin="round" stroke-linecap="round"/>
<path d="M494.4,322.3 L496.5,322.3 L498.5,319.8 L500.6,318.0 L502.6,318.7 L504.7,318.8 L506.7,318.1 L508.8,319.3 L510.9,315.3 L512.9,314.2 L515.0,316.8 L517.0,319.5 L519.1,316.2 L521.1,312.4 L523.2,315.2 L525.3,316.1 L527.3,314.5 L529.4,308.7 L531.4,308.2 L533.5,309.9 L535.6,305.1 L537.6,302.0 L539.7,298.1 L541.7,297.5 L543.8,299.5 L545.8,293.4 L547.9,289.8 L550.0,287.9 L552.0,286.4 L554.1,285.2 L556.1,283.0 L558.2,276.3 L560.2,276.5" stroke="#2a56d8" stroke-width="1.0" fill="none" stroke-linejoin="round" stroke-linecap="round"/>
<path d="M494.4,322.3 L496.4,317.7 L498.5,315.9 L500.5,312.8 L502.5,310.1 L504.5,308.6 L506.6,308.5 L508.6,310.5 L510.6,310.5 L512.6,305.6 L514.7,310.9 L516.7,304.8 L518.7,305.3 L520.7,306.1 L522.8,302.1 L524.8,303.6 L526.8,308.0 L528.8,299.0 L530.9,302.2 L532.9,296.1 L534.9,295.1 L536.9,299.6 L539.0,298.5 L541.0,296.3 L543.0,285.8 L545.0,282.7 L547.1,285.1 L549.1,282.7 L551.1,276.2 L553.2,267.5 L555.2,263.5 L557.2,257.2 L559.2,250.8 L561.3,247.1 L563.3,240.1 L565.3,236.9" stroke="#2a56d8" stroke-width="1.0" fill="none" stroke-linejoin="round" stroke-linecap="round"/>
<path d="M494.4,322.3 L496.5,322.3 L498.5,318.9 L500.6,318.8 L502.6,319.7 L504.7,320.6 L506.7,319.5 L508.8,319.3 L510.8,318.2 L512.9,318.1 L514.9,319.3 L517.0,319.7 L519.0,318.4 L521.1,318.4 L523.2,318.0 L525.2,314.8 L527.3,316.1 L529.3,309.5 L531.4,310.4 L533.4,309.8 L535.5,306.7 L537.5,308.9 L539.6,309.2 L541.6,306.9 L543.7,302.2 L545.8,299.7 L547.8,298.4 L549.9,295.3 L551.9,287.2 L554.0,292.6 L556.0,285.0 L558.1,282.3 L560.1,279.8 L562.2,271.5 L564.2,272.7 L566.3,270.3 L568.3,261.3" stroke="#2a56d8" stroke-width="1.0" fill="none" stroke-linejoin="round" stroke-linecap="round"/>
<path d="M494.4,322.3 L496.4,318.9 L498.5,319.7 L500.5,319.1 L502.5,314.4 L504.5,315.8 L506.6,314.1 L508.6,317.2 L510.6,314.4 L512.6,318.6 L514.7,317.2 L516.7,313.4 L518.7,314.8 L520.7,312.4 L522.8,314.6 L524.8,310.3 L526.8,315.6 L528.8,310.5 L530.9,313.0 L532.9,311.9 L534.9,304.8 L536.9,307.4 L539.0,302.4 L541.0,305.6 L543.0,299.5 L545.0,295.7 L547.1,296.3 L549.1,298.0 L551.1,291.1 L553.2,285.5 L555.2,284.2 L557.2,284.7 L559.2,281.9 L561.3,281.4 L563.3,270.8 L565.3,273.1 L567.3,268.3 L569.4,265.7 L571.4,259.6 L573.4,252.4 L575.4,246.0" stroke="#2a56d8" stroke-width="1.0" fill="none" stroke-linejoin="round" stroke-linecap="round"/>
<path d="M494.4,322.3 L496.4,320.4 L498.5,316.4 L500.5,311.9 L502.5,313.3 L504.5,313.2 L506.6,311.3 L508.6,309.2 L510.6,308.9 L512.6,310.6 L514.7,313.3 L516.7,308.2 L518.7,307.0 L520.7,307.1 L522.8,309.2 L524.8,309.7 L526.8,307.5 L528.8,305.1 L530.9,302.5 L532.9,305.5 L534.9,304.3 L536.9,304.7 L539.0,301.3 L541.0,299.6 L543.0,300.4 L545.0,296.8 L547.1,290.1 L549.1,294.6 L551.1,291.9 L553.2,288.6 L555.2,280.0 L557.2,282.5 L559.2,273.7 L561.3,269.0 L563.3,265.6 L565.3,262.0 L567.3,263.7 L569.4,256.3 L571.4,247.4 L573.4,247.8 L575.4,238.4 L577.5,233.3" stroke="#2a56d8" stroke-width="1.0" fill="none" stroke-linejoin="round" stroke-linecap="round"/>
<path d="M494.4,322.3 L496.5,315.7 L498.5,312.9 L500.6,309.0 L502.6,307.2 L504.7,305.9 L506.7,304.7 L508.8,306.1 L510.8,303.1 L512.9,303.9 L514.9,303.9 L517.0,302.5 L519.0,305.5 L521.1,303.2 L523.1,305.1 L525.2,305.4 L527.2,306.5 L529.3,301.1 L531.3,299.9 L533.4,306.7 L535.4,300.6 L537.5,305.9 L539.5,302.4 L541.6,302.9 L543.6,296.9 L545.7,300.9 L547.7,299.6 L549.8,300.6 L551.8,301.0 L553.9,300.5 L555.9,301.6 L558.0,301.4 L560.0,295.1 L562.1,292.4 L564.1,292.3 L566.2,295.5 L568.2,287.2 L570.3,295.4 L572.3,290.8 L574.4,290.7 L576.4,291.1 L578.5,286.7" stroke="#2a56d8" stroke-width="1.0" fill="none" stroke-linejoin="round" stroke-linecap="round"/>
<path d="M494.4,322.3 L496.4,316.1 L498.5,313.1 L500.5,307.7 L502.5,302.2 L504.5,304.2 L506.6,304.6 L508.6,304.7 L510.6,304.5 L512.6,303.0 L514.7,304.6 L516.7,302.9 L518.7,306.2 L520.7,303.0 L522.8,302.6 L524.8,304.4 L526.8,300.1 L528.8,299.4 L530.9,301.3 L532.9,303.1 L534.9,304.9 L536.9,300.7 L539.0,303.4 L541.0,304.3 L543.0,300.5 L545.0,303.3 L547.1,298.5 L549.1,296.8 L551.1,303.9 L553.2,297.0 L555.2,300.9 L557.2,298.8 L559.2,294.1 L561.3,290.9 L563.3,296.7 L565.3,291.4 L567.3,294.6 L569.4,287.6 L571.4,294.4 L573.4,288.4 L575.4,293.2 L577.5,287.7" stroke="#2a56d8" stroke-width="1.0" fill="none" stroke-linejoin="round" stroke-linecap="round"/>
<path d="M494.4,322.3 L496.5,317.9 L498.5,313.6 L500.6,310.6 L502.6,309.9 L504.7,310.6 L506.7,309.4 L508.8,309.3 L510.8,309.4 L512.9,308.7 L514.9,308.4 L517.0,307.0 L519.0,308.8 L521.1,306.9 L523.1,307.6 L525.2,309.9 L527.2,306.5 L529.3,309.5 L531.3,305.4 L533.4,304.5 L535.4,303.8 L537.5,303.0 L539.5,304.3 L541.6,305.5 L543.6,306.8 L545.7,302.6 L547.7,299.1 L549.8,303.6 L551.8,304.1 L553.9,297.5 L555.9,294.7 L558.0,300.6 L560.0,299.9 L562.1,298.8 L564.1,292.7 L566.2,288.2 L568.2,292.4 L570.3,285.0 L572.4,290.6 L574.4,286.8 L576.5,281.6" stroke="#2a56d8" stroke-width="1.0" fill="none" stroke-linejoin="round" stroke-linecap="round"/>
<path d="M494.4,322.3 L496.5,317.8 L498.5,315.4 L500.6,311.0 L502.6,310.9 L504.7,310.7 L506.7,309.9 L508.8,312.6 L510.8,311.5 L512.9,310.6 L514.9,308.6 L517.0,311.4 L519.0,311.0 L521.1,305.7 L523.1,307.9 L525.2,309.5 L527.2,306.5 L529.3,306.8 L531.3,305.7 L533.4,307.6 L535.4,306.9 L537.5,311.4 L539.5,308.2 L541.6,308.4 L543.6,309.6 L545.7,308.3 L547.8,302.9 L549.8,309.4 L551.9,310.3 L553.9,307.9 L556.0,309.4 L558.0,310.7 L560.1,301.5 L562.1,305.0 L564.2,310.1 L566.2,304.8 L568.3,308.3 L570.3,305.0 L572.4,300.1 L574.4,304.5" stroke="#2a56d8" stroke-width="1.0" fill="none" stroke-linejoin="round" stroke-linecap="round"/>
<path d="M494.4,322.3 L496.4,317.2 L498.5,310.0 L500.5,305.6 L502.5,304.7 L504.5,302.9 L506.6,300.5 L508.6,300.3 L510.6,300.3 L512.6,298.2 L514.7,301.9 L516.7,299.4 L518.7,298.3 L520.7,297.1 L522.8,297.2 L524.8,296.9 L526.8,301.3 L528.8,300.9 L530.9,298.6 L532.9,303.3 L534.9,301.5 L536.9,300.9 L539.0,302.6 L541.0,302.9 L543.0,298.3 L545.0,301.9 L547.1,304.7 L549.1,297.4 L551.1,296.2 L553.2,303.9 L555.2,299.6 L557.2,302.0" stroke="#2a56d8" stroke-width="1.0" fill="none" stroke-linejoin="round" stroke-linecap="round"/>
<path d="M494.4,322.3 L496.4,322.0 L498.5,320.9 L500.5,317.2 L502.5,316.7 L504.5,314.9 L506.6,315.4 L508.6,314.4 L510.6,313.2 L512.6,314.6 L514.7,316.7 L516.7,316.9 L518.7,311.2 L520.7,310.9 L522.8,311.9 L524.8,308.7 L526.8,309.4 L528.8,312.8 L530.9,314.5 L532.9,311.7 L534.9,306.3 L536.9,306.2 L539.0,314.8 L541.0,314.3 L543.0,309.5 L545.0,304.4 L547.1,304.3 L549.1,304.4 L551.1,311.8 L553.2,307.0" stroke="#2a56d8" stroke-width="1.0" fill="none" stroke-linejoin="round" stroke-linecap="round"/>
<path d="M494.4,322.3 L496.4,319.4 L498.5,318.9 L500.5,317.6 L502.5,313.5 L504.5,318.2 L506.6,315.6 L508.6,313.1 L510.6,313.8 L512.6,312.1 L514.7,315.8 L516.7,313.2 L518.7,309.3 L520.7,315.1 L522.8,311.7 L524.8,305.8 L526.8,311.8 L528.8,304.7 L530.9,303.2 L532.9,306.2 L534.9,296.7 L536.9,296.5 L539.0,300.5 L541.0,289.0 L543.0,287.0 L545.0,287.8 L547.1,288.8 L549.1,277.1 L551.1,274.9 L553.2,268.8 L555.2,266.4" stroke="#2a56d8" stroke-width="1.0" fill="none" stroke-linejoin="round" stroke-linecap="round"/>
<path d="M494.4,322.3 L496.5,321.1 L498.5,318.3 L500.6,317.2 L502.7,319.2 L504.7,318.2 L506.8,317.2 L508.8,316.8 L510.9,312.8 L513.0,312.5 L515.0,318.5 L517.1,313.3 L519.2,316.3 L521.2,309.5 L523.3,311.4 L525.4,306.9 L527.4,305.6 L529.5,304.0 L531.5,310.4 L533.6,310.1 L535.7,301.5 L537.7,303.1 L539.8,298.3 L541.9,300.0 L543.9,298.5 L546.0,293.4 L548.1,295.2 L550.1,291.8" stroke="#2a56d8" stroke-width="1.0" fill="none" stroke-linejoin="round" stroke-linecap="round"/>
<path d="M494.4,322.3 L496.4,319.5 L498.5,315.2 L500.5,314.7 L502.5,311.3 L504.5,310.7 L506.6,310.0 L508.6,308.5 L510.6,311.4 L512.6,307.4 L514.7,308.7 L516.7,310.4 L518.7,308.7 L520.7,309.6 L522.8,306.6 L524.8,310.9 L526.8,302.7 L528.8,306.2 L530.9,308.2 L532.9,306.2 L534.9,302.3 L536.9,301.4 L539.0,293.7 L541.0,296.3 L543.0,288.5 L545.0,292.5 L547.1,289.0 L549.1,279.9 L551.1,277.6 L553.2,273.4 L555.2,278.0 L557.2,274.5 L559.2,263.9 L561.3,261.3" stroke="#2a56d8" stroke-width="1.0" fill="none" stroke-linejoin="round" stroke-linecap="round"/>
<path d="M494.4,322.3 L502.5,319.8 L514.7,321.3 L524.8,322.3 L540.0,322.3 L555.2,321.8 L560.2,318.2 L565.3,314.7 L570.4,311.1 L575.4,305.0 L578.5,308.6" stroke="#2a56d8" stroke-width="1.1" fill="none" stroke-linejoin="round" stroke-linecap="round"/>
<path d="M494.4,322.3 L498.5,315.2 L502.5,311.1 L506.6,316.2 L512.6,318.2 L520.7,315.2 L528.8,318.2 L536.9,314.2 L545.0,312.1 L553.2,307.0 L561.3,302.0 L569.4,295.9 L575.4,288.7 L578.5,286.7" stroke="#2a56d8" stroke-width="1.1" fill="none" stroke-linejoin="round" stroke-linecap="round"/>
<path d="M494.4,322.3 L496.4,318.2 L498.5,312.3 L500.5,309.9 L502.5,304.5 L504.5,300.8 L506.6,303.8 L508.6,301.9 L510.6,288.4 L512.6,293.2 L514.7,290.7 L516.7,277.8 L518.7,281.6" stroke="#4f4f4f" stroke-width="1.1" fill="none" stroke-linejoin="round" stroke-linecap="round"/>
<path d="M494.4,322.3 L496.4,318.9 L498.5,313.5 L500.5,312.9 L502.5,308.8 L504.5,310.5 L506.6,303.1 L508.6,297.7 L510.6,299.0 L512.6,293.5 L514.7,291.9 L516.7,297.4 L518.7,285.7 L520.7,285.4 L522.8,284.2" stroke="#4f4f4f" stroke-width="1.1" fill="none" stroke-linejoin="round" stroke-linecap="round"/>
<path d="M494.4,322.3 L496.5,320.7 L498.6,319.8 L500.7,311.6 L502.8,311.7 L504.8,306.9 L506.9,302.5 L509.0,301.2 L511.1,296.0 L513.2,299.3 L515.3,291.4 L517.4,293.3 L519.5,284.1 L521.6,282.2 L523.7,289.8 L525.7,286.6 L527.8,279.1" stroke="#4f4f4f" stroke-width="1.1" fill="none" stroke-linejoin="round" stroke-linecap="round"/>
<path d="M494.4,322.3 L496.5,321.8 L498.6,315.5 L500.6,316.8 L502.7,313.4 L504.8,314.1 L506.9,310.4 L509.0,309.6 L511.1,308.0 L513.1,303.5 L515.2,301.5 L517.3,295.4 L519.4,296.2 L521.5,290.9 L523.6,289.9 L525.6,286.1 L527.7,288.4 L529.8,293.1 L531.9,286.7" stroke="#4f4f4f" stroke-width="1.1" fill="none" stroke-linejoin="round" stroke-linecap="round"/>
<path d="M494.4,322.3 L496.4,318.8 L498.5,316.1 L500.5,314.3 L502.5,314.4 L504.5,311.2 L506.6,313.1 L508.6,305.7 L510.6,305.7 L512.6,306.4 L514.7,306.7 L516.7,295.8 L518.7,291.7 L520.7,300.3 L522.8,289.0 L524.8,291.8 L526.8,292.9 L528.8,288.6 L530.9,280.0 L532.9,276.3 L534.9,284.8 L536.9,274.9 L539.0,274.0" stroke="#4f4f4f" stroke-width="1.1" fill="none" stroke-linejoin="round" stroke-linecap="round"/>
<path d="M494.4,322.3 L496.4,322.3 L498.5,317.6 L500.5,318.0 L502.5,312.2 L504.5,309.2 L506.6,310.7 L508.6,304.2 L510.6,308.1 L512.6,308.3 L514.7,300.9 L516.7,304.8 L518.7,300.9 L520.7,296.3 L522.8,291.4 L524.8,295.1 L526.8,294.2 L528.8,281.0 L530.9,285.9 L532.9,275.0 L534.9,273.5 L536.9,277.9 L539.0,274.4 L541.0,271.4" stroke="#4f4f4f" stroke-width="1.1" fill="none" stroke-linejoin="round" stroke-linecap="round"/>
<path d="M494.4,322.3 L496.4,319.5 L498.5,316.4 L500.5,314.4 L502.5,312.5 L504.5,309.9 L506.6,304.6 L508.6,306.9 L510.6,305.8 L512.6,300.3 L514.7,304.6 L516.7,301.9 L518.7,291.0 L520.7,295.2 L522.8,293.0 L524.8,291.8" stroke="#4f4f4f" stroke-width="1.1" fill="none" stroke-linejoin="round" stroke-linecap="round"/>
<path d="M494.4,322.3 L496.5,322.3 L498.6,318.9 L500.7,315.9 L502.7,318.2 L504.8,311.6 L506.9,309.4 L509.0,313.1 L511.1,305.4 L513.2,305.2 L515.3,300.6 L517.3,302.9 L519.4,296.2 L521.5,293.9 L523.6,301.4 L525.7,298.9 L527.8,288.9 L529.9,289.2" stroke="#4f4f4f" stroke-width="1.1" fill="none" stroke-linejoin="round" stroke-linecap="round"/>
<path d="M494.4,322.3 L496.4,317.4 L498.5,319.0 L500.5,315.4 L502.5,312.0 L504.5,311.7 L506.6,309.0 L508.6,307.2 L510.6,304.4 L512.6,299.6 L514.7,300.5 L516.7,297.3 L518.7,289.9 L520.7,297.2 L522.8,287.7 L524.8,283.1 L526.8,286.3 L528.8,285.0 L530.9,274.9 L532.9,276.5" stroke="#4f4f4f" stroke-width="1.1" fill="none" stroke-linejoin="round" stroke-linecap="round"/>
<path d="M494.4,322.3 L496.4,320.1 L498.5,318.0 L500.5,313.8 L502.5,309.1 L504.5,313.0 L506.6,308.8 L508.6,306.8 L510.6,298.2 L512.6,301.5 L514.7,294.0 L516.7,296.9" stroke="#4f4f4f" stroke-width="1.1" fill="none" stroke-linejoin="round" stroke-linecap="round"/>
<path d="M494.4,322.3 L496.4,320.6 L498.5,317.2 L500.5,312.3 L502.5,307.5 L504.5,309.7 L506.6,310.5 L508.6,310.1 L510.6,302.8 L512.6,305.4 L514.7,299.4" stroke="#4f4f4f" stroke-width="1.1" fill="none" stroke-linejoin="round" stroke-linecap="round"/>
<path d="M494.4,322.3 L496.4,319.1 L498.5,316.9 L500.5,319.0 L502.5,316.6 L504.5,310.5 L506.6,309.6 L508.6,305.8 L510.6,308.1 L512.6,308.3 L514.7,304.5 L516.7,296.4 L518.7,300.5 L520.7,297.4 L522.8,294.2 L524.8,291.9 L526.8,289.7 L528.8,280.6 L530.9,288.4 L532.9,288.0 L534.9,279.1" stroke="#4f4f4f" stroke-width="1.1" fill="none" stroke-linejoin="round" stroke-linecap="round"/>
<path d="M494.4,322.3 L498.5,314.7 L502.5,304.5 L505.5,291.8 L508.6,285.7 L512.6,282.6 L516.7,277.6 L518.7,273.5 L520.7,261.3" stroke="#4f4f4f" stroke-width="1.1" fill="none" stroke-linejoin="round" stroke-linecap="round"/>
<path d="M494.4,322.3 L504.5,313.1 L514.7,300.9 L524.8,292.8 L530.9,281.6 L534.9,272.5 L535.9,262.3 L538.0,274.0 L540.0,262.3 L542.0,258.2 L545.0,235.9" stroke="#4f4f4f" stroke-width="1.1" fill="none" stroke-linejoin="round" stroke-linecap="round"/>
<path d="M494.4,322.3 L504.5,314.7 L514.7,305.5 L524.8,296.9 L532.9,284.2 L538.0,272.5 L541.0,255.2 L543.0,257.2 L547.1,235.9" stroke="#4f4f4f" stroke-width="1.1" fill="none" stroke-linejoin="round" stroke-linecap="round"/>
<text x="289.2" y="385.9" font-size="16" text-anchor="start" fill="#000" font-weight="bold" stroke="#000" stroke-width="0.45">d</text>
<path d="M345.1,380.2 H365.9 V389.4 H369.0 V407.7 H371.1 V416.9 H372.5 V436.2 H376.3 V445.4 H383.4 V463.8 H390.9 V472.9 H395.8 V482.1" stroke="#7a7a7a" stroke-width="2" fill="none" stroke-linejoin="miter"/>
<path d="M345.1,380.2 H362.6 V385.3 H365.9 V403.6 H372.5 V407.7 H381.3 V413.8 H385.7 V442.4 H390.7 V459.7 H391.7 V464.8 H393.1 V477.0 H395.8 V482.1" stroke="#7fce6c" stroke-width="2" fill="none" stroke-linejoin="miter"/>
<path d="M345.1,380.2 H390.1 V385.3 H394.5 V391.4 H395.8 V397.5 H397.4 V408.7 H404.7 V413.8 H409.0 V419.9 H410.0 V437.3 H411.4 V442.4 H415.6 V448.5 H420.7 V459.7 H426.0 V464.8 H428.0 V477.0 H429.3 V482.1" stroke="#2a56d8" stroke-width="2" fill="none" stroke-linejoin="miter"/>
<line x1="345.10" y1="379.70" x2="345.10" y2="482.60" stroke="#555" stroke-width="1"/>
<line x1="344.60" y1="482.10" x2="447.00" y2="482.10" stroke="#555" stroke-width="1"/>
<line x1="345.10" y1="482.10" x2="345.10" y2="486.60" stroke="#555" stroke-width="1"/>
<text transform="translate(345.1 498.4) scale(1.082 1)" font-size="9.84" text-anchor="middle" fill="#3a3a3a">0</text>
<line x1="365.38" y1="482.10" x2="365.38" y2="486.60" stroke="#555" stroke-width="1"/>
<text transform="translate(365.4 498.4) scale(1.082 1)" font-size="9.84" text-anchor="middle" fill="#3a3a3a">20</text>
<line x1="385.66" y1="482.10" x2="385.66" y2="486.60" stroke="#555" stroke-width="1"/>
<text transform="translate(385.7 498.4) scale(1.082 1)" font-size="9.84" text-anchor="middle" fill="#3a3a3a">40</text>
<line x1="405.94" y1="482.10" x2="405.94" y2="486.60" stroke="#555" stroke-width="1"/>
<text transform="translate(405.9 498.4) scale(1.082 1)" font-size="9.84" text-anchor="middle" fill="#3a3a3a">60</text>
<line x1="426.22" y1="482.10" x2="426.22" y2="486.60" stroke="#555" stroke-width="1"/>
<text transform="translate(426.2 498.4) scale(1.082 1)" font-size="9.84" text-anchor="middle" fill="#3a3a3a">80</text>
<line x1="446.50" y1="482.10" x2="446.50" y2="486.60" stroke="#555" stroke-width="1"/>
<text transform="translate(446.5 498.4) scale(1.082 1)" font-size="9.84" text-anchor="middle" fill="#3a3a3a">100</text>
<line x1="339.60" y1="482.10" x2="345.10" y2="482.10" stroke="#555" stroke-width="1"/>
<text transform="translate(335.1 485.5) scale(1.082 1)" font-size="9.84" text-anchor="end" fill="#3a3a3a">0</text>
<line x1="339.60" y1="461.72" x2="345.10" y2="461.72" stroke="#555" stroke-width="1"/>
<text transform="translate(335.1 465.1) scale(1.082 1)" font-size="9.84" text-anchor="end" fill="#3a3a3a">20</text>
<line x1="339.60" y1="441.34" x2="345.10" y2="441.34" stroke="#555" stroke-width="1"/>
<text transform="translate(335.1 444.7) scale(1.082 1)" font-size="9.84" text-anchor="end" fill="#3a3a3a">40</text>
<line x1="339.60" y1="420.96" x2="345.10" y2="420.96" stroke="#555" stroke-width="1"/>
<text transform="translate(335.1 424.4) scale(1.082 1)" font-size="9.84" text-anchor="end" fill="#3a3a3a">60</text>
<line x1="339.60" y1="400.58" x2="345.10" y2="400.58" stroke="#555" stroke-width="1"/>
<text transform="translate(335.1 404.0) scale(1.082 1)" font-size="9.84" text-anchor="end" fill="#3a3a3a">80</text>
<line x1="339.60" y1="380.20" x2="345.10" y2="380.20" stroke="#555" stroke-width="1"/>
<text transform="translate(335.1 383.6) scale(1.082 1)" font-size="9.84" text-anchor="end" fill="#3a3a3a">100</text>
<text transform="translate(395.8 514.4) scale(1.040 1)" font-size="10.62" text-anchor="middle" fill="#222">Time (days)</text>
<text transform="translate(299.0 431.5) rotate(-90) scale(1.040 1)" font-size="10.81" text-anchor="middle" fill="#222">Probability of</text>
<text transform="translate(311.0 431.2) rotate(-90) scale(1.040 1)" font-size="10.81" text-anchor="middle" fill="#222">survival</text>
<line x1="447.90" y1="395.40" x2="457.90" y2="395.40" stroke="#2a56d8" stroke-width="2"/>
<text transform="translate(464.3 399.0) scale(0.967 1)" font-size="10.62" text-anchor="start" fill="#222">EP2<tspan dy="-3.0" font-size="8.80" letter-spacing="0.45">-/-</tspan><tspan dy="3.0" font-size="1">&#160;</tspan>EP4<tspan dy="-3.0" font-size="8.80" letter-spacing="0.45">-/-</tspan><tspan dy="3.0" font-size="1">&#160;</tspan></text>
<line x1="447.90" y1="420.10" x2="457.90" y2="420.10" stroke="#7fce6c" stroke-width="2"/>
<text transform="translate(464.3 423.7) scale(1.019 1)" font-size="10.62" text-anchor="start" fill="#222">Mock</text>
<line x1="447.90" y1="446.90" x2="457.90" y2="446.90" stroke="#7a7a7a" stroke-width="2"/>
<text transform="translate(464.3 450.5) scale(0.874 1)" font-size="10.62" text-anchor="start" fill="#222">UT</text>
<path d="M499.0,421.5 H503.7 V446.9 H484.7" stroke="#444" stroke-width="0.8" fill="none"/>
<text transform="translate(506.5 436.0) scale(1.040 1)" font-size="7.24" text-anchor="start" fill="#222">NS</text>
<path d="M528.3,395.7 H543.7 V446.9 H528.3" stroke="#444" stroke-width="0.8" fill="none"/>
<text transform="translate(545.2 423.2) scale(1.040 1)" font-size="7.62" text-anchor="start" fill="#222">&lt;0.0001</text>
<path d="M577.3,396.8 H601.7 V421.9 H577.3" stroke="#444" stroke-width="0.8" fill="none"/>
<text transform="translate(604.5 411.0) scale(1.040 1)" font-size="7.62" text-anchor="start" fill="#222">&lt;0.0001</text>
<text x="0.0" y="527.6" font-size="16" text-anchor="start" fill="#000" font-weight="bold" stroke="#000" stroke-width="0.45">e</text>
<text transform="translate(37.8 533.0) scale(1.040 1)" font-size="10.81" text-anchor="middle" fill="#222">Patient</text>
<text transform="translate(120.5 533.0) scale(1.040 1)" font-size="10.81" text-anchor="middle" fill="#222">Tumour</text>
<defs><g id="sphA"><circle cx="-3.58" cy="-11.24" r="5.31" fill="#fce9d8"/><circle cx="-3.58" cy="-11.24" r="2.66" fill="#f8dcc4"/><circle cx="12.26" cy="-1.53" r="4.09" fill="#fce9d8"/><circle cx="12.26" cy="-1.53" r="2.04" fill="#f8dcc4"/><circle cx="-11.24" cy="3.07" r="4.09" fill="#fce9d8"/><circle cx="-11.24" cy="3.07" r="2.04" fill="#f8dcc4"/><circle cx="2.55" cy="10.22" r="5.11" fill="#fce9d8"/><circle cx="2.55" cy="10.22" r="2.55" fill="#f8dcc4"/><circle cx="8.17" cy="-7.66" r="4.09" fill="#fce9d8"/><circle cx="8.17" cy="-7.66" r="2.04" fill="#f8dcc4"/><circle cx="-9.20" cy="-7.66" r="3.58" fill="#fce9d8"/><circle cx="-9.20" cy="-7.66" r="1.79" fill="#f8dcc4"/><circle cx="-10.22" cy="-2.55" r="5.11" fill="#f9d5b0" stroke="#f3c79c" stroke-width="0.3"/><circle cx="-10.22" cy="-2.55" r="2.55" fill="#f5bf99"/><circle cx="6.13" cy="-5.62" r="5.11" fill="#f9d5b0" stroke="#f3c79c" stroke-width="0.3"/><circle cx="6.13" cy="-5.62" r="2.55" fill="#f5bf99"/><circle cx="-5.62" cy="6.13" r="5.31" fill="#f9d5b0" stroke="#f3c79c" stroke-width="0.3"/><circle cx="-5.62" cy="6.13" r="2.66" fill="#f5bf99"/><circle cx="-2.55" cy="-5.62" r="5.62" fill="#d5f0d0" stroke="#bfe3b8" stroke-width="0.3"/><circle cx="-2.55" cy="-5.62" r="2.81" fill="#b4e2ab"/><circle cx="7.15" cy="3.58" r="5.62" fill="#c0e5df" stroke="#a9d8d2" stroke-width="0.3"/><circle cx="7.15" cy="3.58" r="2.81" fill="#9fd6d0"/><circle cx="0.00" cy="1.02" r="5.62" fill="#f9c8cb" stroke="#f2b4b8" stroke-width="0.3"/><circle cx="0.00" cy="1.02" r="2.81" fill="#f1a7ae"/></g><g id="sphB"><circle cx="-3.58" cy="-10.73" r="5.11" fill="#fce9d8"/><circle cx="-3.58" cy="-10.73" r="2.55" fill="#f8dcc4"/><circle cx="12.26" cy="-1.53" r="3.58" fill="#fce9d8"/><circle cx="12.26" cy="-1.53" r="1.79" fill="#f8dcc4"/><circle cx="-11.75" cy="4.60" r="4.09" fill="#fce9d8"/><circle cx="-11.75" cy="4.60" r="2.04" fill="#f8dcc4"/><circle cx="2.55" cy="10.22" r="5.11" fill="#fce9d8"/><circle cx="2.55" cy="10.22" r="2.55" fill="#f8dcc4"/><circle cx="9.20" cy="7.66" r="3.58" fill="#fce9d8"/><circle cx="9.20" cy="7.66" r="1.79" fill="#f8dcc4"/><circle cx="6.13" cy="-5.11" r="5.11" fill="#d5f0d0" stroke="#bfe3b8" stroke-width="0.3"/><circle cx="6.13" cy="-5.11" r="2.55" fill="#b4e2ab"/><circle cx="-10.22" cy="-2.55" r="5.11" fill="#f9d5b0" stroke="#f3c79c" stroke-width="0.3"/><circle cx="-10.22" cy="-2.55" r="2.55" fill="#f5bf99"/><circle cx="-2.55" cy="-5.11" r="5.11" fill="#f9d5b0" stroke="#f3c79c" stroke-width="0.3"/><circle cx="-2.55" cy="-5.11" r="2.55" fill="#f5bf99"/><circle cx="7.15" cy="3.58" r="5.11" fill="#f9d5b0" stroke="#f3c79c" stroke-width="0.3"/><circle cx="7.15" cy="3.58" r="2.55" fill="#f5bf99"/><circle cx="-5.62" cy="6.64" r="5.62" fill="#c0e5df" stroke="#a9d8d2" stroke-width="0.3"/><circle cx="-5.62" cy="6.64" r="2.81" fill="#9fd6d0"/><circle cx="0.00" cy="1.02" r="5.62" fill="#f9d5b0" stroke="#f3c79c" stroke-width="0.3"/><circle cx="0.00" cy="1.02" r="2.81" fill="#f5bf99"/></g><g id="cart"><circle r="3.1" fill="#fcebb5"/><circle r="2.0" fill="#f9d08c"/><rect x="-0.85" y="-5.9" width="1.7" height="2.1" rx="0.6" fill="#2f7cab" transform="rotate(0)"/><rect x="-0.85" y="-5.9" width="1.7" height="2.1" rx="0.6" fill="#2f7cab" transform="rotate(60)"/><rect x="-0.85" y="-5.9" width="1.7" height="2.1" rx="0.6" fill="#2f7cab" transform="rotate(120)"/><rect x="-0.85" y="-5.9" width="1.7" height="2.1" rx="0.6" fill="#2f7cab" transform="rotate(180)"/><rect x="-0.85" y="-5.9" width="1.7" height="2.1" rx="0.6" fill="#2f7cab" transform="rotate(240)"/><rect x="-0.85" y="-5.9" width="1.7" height="2.1" rx="0.6" fill="#2f7cab" transform="rotate(300)"/></g></defs>
<g>
<path d="M28.5,596.3 L29.6,607.1 L29.2,609.8 L27.8,611.6 L28.5,613.3 L31.7,613.3 L32.3,610.3 L32.1,607.1 L32.9,596.3 Z" fill="#58595b"/>
<path d="M37.1,597.2 L37.5,604.4 L37.2,607.1 L41.1,609.7 L44.8,609.5 L44.9,607.9 L40.7,606.2 L39.9,604.4 L40.4,597.2 Z" fill="#58595b"/>
<path d="M25.6,563.0 L26.2,571.1 L28.2,578.3 L28.5,582.8 L30.3,583.7 L31.4,580.5 L30.3,577.4 L29.4,571.1 L29.4,563.0 Z" fill="#58595b"/>
<path d="M43.7,563.0 L44.0,571.1 L43.7,577.4 L44.0,580.5 L45.1,579.2 L45.7,571.1 L46.2,563.0 Z" fill="#58595b"/>
<path d="M33.8,547.6 L33.5,551.7 L38.9,551.7 L38.6,547.6 Z" fill="#58595b"/>
<path d="M32.3,544.0 Q32.0,540.6 34.4,540.0 L38.0,540.0 Q40.2,540.6 39.9,544.0 L39.3,547.2 Q37.5,549.9 35.9,549.9 Q34.1,549.9 32.9,547.2 Z" fill="#58595b"/>
<path d="M32.3,544.0 Q32.0,540.6 34.4,540.0 L38.0,540.0 Q40.2,540.6 39.9,544.0 L39.3,542.8 L33.0,542.8 Z" fill="#434446"/>
<path d="M33.0,550.8 Q36.2,553.9 39.3,550.8 L43.0,552.6 Q45.7,554.4 46.2,558.4 L46.6,563.7 L43.7,564.4 L44.0,578.3 L42.1,597.2 L27.8,597.2 L27.6,585.5 L31.1,583.7 L31.6,580.1 L30.0,574.7 L29.4,564.8 L25.3,563.7 L25.6,557.5 Q26.2,553.5 29.4,552.3 Z" fill="#a9cdd6"/>
<path d="M33.0,585.5 L35.7,595.4" stroke="#8fbcc8" stroke-width="0.7" fill="none" opacity="0.7"/>
<path d="M41.1,581.9 L41.7,596.3" stroke="#8fbcc8" stroke-width="0.9" fill="none" opacity="0.6"/>
<path d="M29.2,564.8 L29.6,557.5" stroke="#8fbcc8" stroke-width="0.5" fill="none" opacity="0.6"/>
<path d="M43.7,564.4 L43.3,557.5" stroke="#8fbcc8" stroke-width="0.5" fill="none" opacity="0.6"/>
</g>
<path d="M98.1,553.0 L92.8,552.2 Q88.2,551.7 85.6,549.8 Q81.0,548.1 76.4,551.0 Q72.5,554.1 70.0,557.6 Q68.7,559.7 69.7,560.8 Q71.8,561.3 74.5,560.5 Q77.1,562.3 83.0,563.0 Q88.2,563.0 92.8,561.5 L98.1,560.8 Z" fill="#2d93d6"/>
<path d="M74.7,560.2 Q78.4,557.6 82.3,557.3 Q85.6,557.1 85.0,554.7" fill="none" stroke="#1f7cc2" stroke-width="0.6" opacity="0.7"/>
<path d="M86.0,550.2 L73.7,561.3" stroke="#2b4660" stroke-width="1.9" stroke-linecap="round" fill="none"/>
<path d="M85.0,551.8 L79.7,556.5" stroke="#8fa6b8" stroke-width="0.5" stroke-dasharray="0.6 0.5" fill="none"/>
<path d="M74.2,560.4 L73.1,561.8 L65.3,568.1 L72.9,560.8 Z" fill="#5d7388" stroke="#4a6077" stroke-width="0.3"/>
<g>
<g opacity="1"><circle cx="121.2" cy="558.1" r="11.7" fill="#f0b7a6"/><circle cx="129.8" cy="560.8" r="5.9" fill="#f0b7a6"/><circle cx="127.4" cy="565.4" r="5.8" fill="#f0b7a6"/><circle cx="122.4" cy="567.4" r="6.1" fill="#f0b7a6"/><circle cx="117.6" cy="565.8" r="6.2" fill="#f0b7a6"/><circle cx="114.0" cy="562.6" r="6.1" fill="#f0b7a6"/><circle cx="112.7" cy="558.0" r="5.8" fill="#f0b7a6"/><circle cx="113.6" cy="553.0" r="6.5" fill="#f0b7a6"/><circle cx="117.7" cy="550.2" r="5.9" fill="#f0b7a6"/><circle cx="122.7" cy="548.7" r="6.6" fill="#f0b7a6"/><circle cx="127.5" cy="551.1" r="6.1" fill="#f0b7a6"/><circle cx="131.0" cy="555.4" r="5.7" fill="#f0b7a6"/></g>
<g opacity="1"><circle cx="121.2" cy="558.1" r="10.9" fill="#e08a75"/><circle cx="129.8" cy="560.8" r="5.1" fill="#e08a75"/><circle cx="127.4" cy="565.4" r="5.0" fill="#e08a75"/><circle cx="122.4" cy="567.4" r="5.3" fill="#e08a75"/><circle cx="117.6" cy="565.8" r="5.4" fill="#e08a75"/><circle cx="114.0" cy="562.6" r="5.3" fill="#e08a75"/><circle cx="112.7" cy="558.0" r="5.0" fill="#e08a75"/><circle cx="113.6" cy="553.0" r="5.7" fill="#e08a75"/><circle cx="117.7" cy="550.2" r="5.1" fill="#e08a75"/><circle cx="122.7" cy="548.7" r="5.8" fill="#e08a75"/><circle cx="127.5" cy="551.1" r="5.3" fill="#e08a75"/><circle cx="131.0" cy="555.4" r="4.9" fill="#e08a75"/></g>
<g opacity="1"><circle cx="121.2" cy="558.1" r="10.1" fill="#cf5f48"/><circle cx="129.8" cy="560.8" r="4.3" fill="#cf5f48"/><circle cx="127.4" cy="565.4" r="4.2" fill="#cf5f48"/><circle cx="122.4" cy="567.4" r="4.5" fill="#cf5f48"/><circle cx="117.6" cy="565.8" r="4.6" fill="#cf5f48"/><circle cx="114.0" cy="562.6" r="4.5" fill="#cf5f48"/><circle cx="112.7" cy="558.0" r="4.2" fill="#cf5f48"/><circle cx="113.6" cy="553.0" r="4.9" fill="#cf5f48"/><circle cx="117.7" cy="550.2" r="4.3" fill="#cf5f48"/><circle cx="122.7" cy="548.7" r="5.0" fill="#cf5f48"/><circle cx="127.5" cy="551.1" r="4.5" fill="#cf5f48"/><circle cx="131.0" cy="555.4" r="4.1" fill="#cf5f48"/></g>
<g opacity="1"><circle cx="121.2" cy="558.1" r="9.1" fill="#3a2f2b"/><circle cx="129.8" cy="560.8" r="3.3" fill="#3a2f2b"/><circle cx="127.4" cy="565.4" r="3.2" fill="#3a2f2b"/><circle cx="122.4" cy="567.4" r="3.5" fill="#3a2f2b"/><circle cx="117.6" cy="565.8" r="3.6" fill="#3a2f2b"/><circle cx="114.0" cy="562.6" r="3.5" fill="#3a2f2b"/><circle cx="112.7" cy="558.0" r="3.2" fill="#3a2f2b"/><circle cx="113.6" cy="553.0" r="3.9" fill="#3a2f2b"/><circle cx="117.7" cy="550.2" r="3.3" fill="#3a2f2b"/><circle cx="122.7" cy="548.7" r="4.0" fill="#3a2f2b"/><circle cx="127.5" cy="551.1" r="3.5" fill="#3a2f2b"/><circle cx="131.0" cy="555.4" r="3.1" fill="#3a2f2b"/></g>
<circle cx="123.3" cy="555.5" r="1.0" fill="#4b3e38"/>
<circle cx="115.4" cy="555.3" r="1.4" fill="#4b3e38"/>
<circle cx="114.8" cy="554.5" r="1.2" fill="#2b2320"/>
<circle cx="119.7" cy="551.8" r="1.4" fill="#463a35"/>
<circle cx="119.1" cy="553.6" r="1.2" fill="#2b2320"/>
<circle cx="124.9" cy="556.2" r="1.1" fill="#30272400"/>
<circle cx="120.3" cy="555.4" r="1.4" fill="#2b2320"/>
<circle cx="117.3" cy="558.2" r="1.3" fill="#2b2320"/>
<circle cx="122.5" cy="557.9" r="1.2" fill="#54463f"/>
<circle cx="124.4" cy="562.7" r="0.9" fill="#4b3e38"/>
<circle cx="121.8" cy="551.5" r="1.6" fill="#54463f"/>
<circle cx="119.0" cy="561.5" r="1.3" fill="#463a35"/>
<circle cx="122.2" cy="558.6" r="1.1" fill="#4b3e38"/>
<circle cx="128.7" cy="561.1" r="1.4" fill="#463a35"/>
<circle cx="120.2" cy="562.4" r="1.4" fill="#4b3e38"/>
<circle cx="125.0" cy="556.6" r="1.4" fill="#463a35"/>
<circle cx="129.4" cy="561.3" r="1.0" fill="#30272400"/>
<circle cx="112.8" cy="564.4" r="1.3" fill="#30272400"/>
<circle cx="115.2" cy="560.1" r="1.6" fill="#463a35"/>
<circle cx="123.3" cy="555.7" r="1.2" fill="#54463f"/>
<circle cx="119.4" cy="554.1" r="1.1" fill="#4b3e38"/>
<circle cx="122.4" cy="560.5" r="1.1" fill="#463a35"/>
<circle cx="122.2" cy="556.3" r="1.1" fill="#30272400"/>
<circle cx="117.5" cy="560.2" r="1.4" fill="#30272400"/>
<circle cx="119.0" cy="552.6" r="1.4" fill="#4b3e38"/>
<circle cx="111.6" cy="560.8" r="1.7" fill="#2b2320"/>
<circle cx="117.6" cy="561.0" r="1.0" fill="#463a35"/>
<circle cx="121.9" cy="558.4" r="1.1" fill="#30272400"/>
<circle cx="126.5" cy="562.5" r="1.0" fill="#2b2320"/>
<circle cx="121.9" cy="559.0" r="1.2" fill="#4b3e38"/>
<circle cx="123.4" cy="559.1" r="1.2" fill="#54463f"/>
<circle cx="127.9" cy="556.2" r="1.3" fill="#4b3e38"/>
<circle cx="127.9" cy="548.8" r="1.3" fill="#463a35"/>
<circle cx="120.6" cy="559.6" r="1.5" fill="#54463f"/>
<circle cx="113.3" cy="559.2" r="1.3" fill="#30272400"/>
<circle cx="127.0" cy="556.3" r="1.0" fill="#2b2320"/>
<circle cx="128.7" cy="553.6" r="1.1" fill="#4b3e38"/>
<circle cx="120.2" cy="555.3" r="1.2" fill="#30272400"/>
<circle cx="119.6" cy="560.1" r="1.3" fill="#2b2320"/>
<circle cx="120.0" cy="560.4" r="1.5" fill="#30272400"/>
</g>
<line x1="123.10" y1="581.60" x2="123.10" y2="593.80" stroke="#55617b" stroke-width="1.2"/>
<path d="M121.0,591.8 L123.1,595.8 L125.2,591.8 Z" fill="#3f4f6e"/>
<line x1="123.30" y1="636.80" x2="123.30" y2="648.60" stroke="#55617b" stroke-width="1.2"/>
<path d="M121.2,646.6 L123.3,650.6 L125.4,646.6 Z" fill="#3f4f6e"/>
<path d="M94.1,611.5 V618 A29.6,14.6 0 0 0 153.3,618 V611.5 Z" fill="#f8f4f1" stroke="#dfe2e8" stroke-width="0.6"/>
<ellipse cx="123.7" cy="617.6" rx="27.6" ry="12.6" fill="#fdf8f4" stroke="#ece9e8" stroke-width="0.5"/>
<ellipse cx="123.7" cy="611.5" rx="29.6" ry="14.3" fill="#fdfbf9" fill-opacity="0.55" stroke="#dde1e8" stroke-width="0.7"/>
<g opacity="0.62">
<use href="#sphA" transform="translate(114.2 613.4) scale(0.47)"/>
<use href="#sphA" transform="translate(132.3 610.4) scale(0.47)"/>
<use href="#sphA" transform="translate(124.1 624.5) scale(0.47)"/>
</g>
<path d="M47.0,633.3 L49.9,630.3 L56.3,632.7 L65.2,643.9 L65.8,649.5 L72.7,656.9 L71.4,658.5 L63.2,652.1 L58.5,648.7 L51.0,638.6 L43.3,639.4 L41.9,637.0 Z" fill="#2f5f7d" stroke="#2f5f7d" stroke-width="0.5" stroke-linejoin="round"/>
<path d="M71.7,657.4 L80.4,665.8" stroke="#2f5f7d" stroke-width="0.7" fill="none"/>
<path d="M73.3,659.0 L80.4,665.8" stroke="#3aa0e6" stroke-width="0.9" fill="none"/>
<path d="M40.9,630.3 L45.4,626.6 L46.7,628.2 L45.0,629.6 L47.0,631.9 L45.4,633.1 L43.4,630.7 L42.1,631.9 Z" fill="#2f97dc"/>
<path d="M49.0,670.1 L49.0,712.9 L54.7,730.4 Q55.6,731.4 56.5,730.4 L62.2,712.9 L62.2,670.1 Z" fill="#f1f5f8" stroke="#93a0ad" stroke-width="0.7"/>
<path d="M49.9,686.3 L49.9,712.9 L55.2,729.5 L56.0,729.5 L61.3,712.9 L61.3,686.3 Z" fill="#d5e9f7"/>
<path d="M49.9,686.3 L61.3,686.3" stroke="#b5d3ea" stroke-width="0.5"/>
<circle cx="53.2" cy="715.8" r="1.0" fill="#f3d48f"/>
<circle cx="56.8" cy="715.0" r="1.0" fill="#f3d48f"/>
<circle cx="54.7" cy="720.3" r="1.0" fill="#f3d48f"/>
<circle cx="57.5" cy="719.0" r="1.0" fill="#f3d48f"/>
<circle cx="55.5" cy="723.7" r="1.0" fill="#f3d48f"/>
<circle cx="53.3" cy="718.8" r="1.0" fill="#f3d48f"/>
<line x1="49.60" y1="673.10" x2="53.60" y2="673.10" stroke="#8f9aa5" stroke-width="0.4"/>
<line x1="49.60" y1="675.50" x2="52.00" y2="675.50" stroke="#8f9aa5" stroke-width="0.4"/>
<line x1="49.60" y1="677.80" x2="52.00" y2="677.80" stroke="#8f9aa5" stroke-width="0.4"/>
<line x1="49.60" y1="680.20" x2="53.60" y2="680.20" stroke="#8f9aa5" stroke-width="0.4"/>
<line x1="49.60" y1="682.60" x2="52.00" y2="682.60" stroke="#8f9aa5" stroke-width="0.4"/>
<line x1="49.60" y1="685.00" x2="52.00" y2="685.00" stroke="#8f9aa5" stroke-width="0.4"/>
<line x1="49.60" y1="687.40" x2="53.60" y2="687.40" stroke="#8f9aa5" stroke-width="0.4"/>
<line x1="49.60" y1="689.80" x2="52.00" y2="689.80" stroke="#8f9aa5" stroke-width="0.4"/>
<line x1="49.60" y1="692.20" x2="52.00" y2="692.20" stroke="#8f9aa5" stroke-width="0.4"/>
<line x1="49.60" y1="694.60" x2="53.60" y2="694.60" stroke="#8f9aa5" stroke-width="0.4"/>
<line x1="49.60" y1="696.90" x2="52.00" y2="696.90" stroke="#8f9aa5" stroke-width="0.4"/>
<line x1="49.60" y1="699.30" x2="52.00" y2="699.30" stroke="#8f9aa5" stroke-width="0.4"/>
<line x1="49.60" y1="701.70" x2="53.60" y2="701.70" stroke="#8f9aa5" stroke-width="0.4"/>
<line x1="49.60" y1="704.10" x2="52.00" y2="704.10" stroke="#8f9aa5" stroke-width="0.4"/>
<line x1="49.60" y1="706.50" x2="52.00" y2="706.50" stroke="#8f9aa5" stroke-width="0.4"/>
<line x1="49.60" y1="708.90" x2="53.60" y2="708.90" stroke="#8f9aa5" stroke-width="0.4"/>
<line x1="49.60" y1="711.30" x2="52.00" y2="711.30" stroke="#8f9aa5" stroke-width="0.4"/>
<rect x="47.0" y="664.4" width="17.2" height="5.7" rx="0.8" fill="#e0762f"/>
<line x1="48.60" y1="664.80" x2="48.60" y2="669.90" stroke="#c9621f" stroke-width="0.5"/>
<line x1="50.40" y1="664.80" x2="50.40" y2="669.90" stroke="#c9621f" stroke-width="0.5"/>
<line x1="52.30" y1="664.80" x2="52.30" y2="669.90" stroke="#c9621f" stroke-width="0.5"/>
<line x1="54.10" y1="664.80" x2="54.10" y2="669.90" stroke="#c9621f" stroke-width="0.5"/>
<line x1="56.00" y1="664.80" x2="56.00" y2="669.90" stroke="#c9621f" stroke-width="0.5"/>
<line x1="57.90" y1="664.80" x2="57.90" y2="669.90" stroke="#c9621f" stroke-width="0.5"/>
<line x1="59.70" y1="664.80" x2="59.70" y2="669.90" stroke="#c9621f" stroke-width="0.5"/>
<line x1="61.60" y1="664.80" x2="61.60" y2="669.90" stroke="#c9621f" stroke-width="0.5"/>
<line x1="63.40" y1="664.80" x2="63.40" y2="669.90" stroke="#c9621f" stroke-width="0.5"/>
<text transform="translate(41.7 700.3) rotate(-90) scale(0.905 1)" font-size="10.62" text-anchor="middle" fill="#222">CAR-T</text>
<path d="M81.7,676.3 L153.0,652.6 L180.6,676.8 L180.6,682.9 L108.3,710.4 L81.7,682.9 Z" fill="#dcdcde" stroke="#c6c6ca" stroke-width="0.5" stroke-linejoin="round"/>
<path d="M81.7,676.3 L108.3,703.9 L108.3,710.4 L81.7,682.9 Z" fill="#d9d9dc"/>
<path d="M108.3,703.9 L180.6,676.8 L180.6,682.9 L108.3,710.4 Z" fill="#e9e9eb"/>
<path d="M81.7,676.3 L153.0,652.6 L180.6,676.8 L108.3,703.9 Z" fill="#eeeeef" stroke="#c9c9cd" stroke-width="0.5" stroke-linejoin="round"/>
<path d="M87.3,676.8 L152.1,655.4 L175.2,676.3 L109.2,700.4 Z" fill="#e6e6e8"/>
<path d="M106.0,675.9 Q112.7,678.9 118.8,679.2 Q124.9,679.2 128.4,677.1 L135.4,673.6 Q141.6,671.2 145.1,664.5" fill="none" stroke="#e8d287" stroke-width="1.15"/>
<path d="M121.4,689.4 Q122.3,683.8 128.4,679.9 L136.3,676.1 Q146.8,672.9 160.8,675.4" fill="none" stroke="#e8d287" stroke-width="1.15"/>
<path d="M105.7,685.9 L156.5,668.6" fill="none" stroke="#78b6e6" stroke-width="0.9"/>
<path d="M102.1,674.2 V677.8 A3.9,2.1 0 0 0 109.9,677.8 V674.2 Z" fill="#dcc470"/>
<ellipse cx="106.0" cy="674.2" rx="3.9" ry="2.2" fill="#e8d287"/>
<ellipse cx="106.0" cy="674.4" rx="2.3" ry="1.2" fill="#ccb35c"/>
<path d="M141.2,661.4 V665.0 A3.9,2.1 0 0 0 149.0,665.0 V661.4 Z" fill="#dcc470"/>
<ellipse cx="145.1" cy="661.4" rx="3.9" ry="2.2" fill="#e8d287"/>
<ellipse cx="145.1" cy="661.6" rx="2.3" ry="1.2" fill="#ccb35c"/>
<path d="M156.9,674.2 V677.8 A3.9,2.1 0 0 0 164.7,677.8 V674.2 Z" fill="#dcc470"/>
<ellipse cx="160.8" cy="674.2" rx="3.9" ry="2.2" fill="#e8d287"/>
<ellipse cx="160.8" cy="674.4" rx="2.3" ry="1.2" fill="#ccb35c"/>
<path d="M117.5,689.1 V692.7 A3.9,2.1 0 0 0 125.3,692.7 V689.1 Z" fill="#dcc470"/>
<ellipse cx="121.4" cy="689.1" rx="3.9" ry="2.2" fill="#e8d287"/>
<ellipse cx="121.4" cy="689.3" rx="2.3" ry="1.2" fill="#ccb35c"/>
<rect x="104.7" y="682.3" width="2" height="4.8" rx="0.9" fill="#86bde8"/>
<rect x="155.5" y="664.2" width="2" height="4.8" rx="0.9" fill="#86bde8"/>
<rect x="128.1" y="674.6" width="8.3" height="7.4" fill="none" stroke="#444" stroke-width="0.7"/>
<path d="M128.3,674.6 L201.4,556.3" stroke="#333" stroke-width="1.1" stroke-dasharray="2 2.4" fill="none"/>
<path d="M136.4,682 L201.4,716.5" stroke="#333" stroke-width="1.1" stroke-dasharray="2 2.4" fill="none"/>
<text transform="translate(76.4 723.4) scale(1.040 1)" font-size="11.19" text-anchor="start" fill="#222">3D microfluidic device</text>
<path d="M80.1,646.5 Q74.4,663.8 93.4,672.8" fill="none" stroke="#3f4f6e" stroke-width="0.8"/>
<path d="M92.9,670.7 L96.7,674.3 L91.3,674.4 Z" fill="#3f4f6e"/>
<rect x="201.4" y="556.1" width="152.9" height="160.60000000000002" fill="#fff"/>
<rect x="201.4" y="556.1" width="24.0" height="160.60000000000002" fill="#fbf7e6"/>
<rect x="330.8" y="556.1" width="23.5" height="160.60000000000002" fill="#fbf7e6"/>
<path d="M225.6,557.5 Q225.6,556.3 227.2,557.0 L243.8,565.8 Q245.6,567.1 243.8,568.4 L227.2,577.2 Q225.6,577.9 225.6,576.7 Z" fill="#e9f0fc" stroke="#8aa0dc" stroke-width="1.0" stroke-linejoin="round"/>
<path d="M225.6,582.5 Q225.6,581.3 227.2,582.0 L243.8,590.8 Q245.6,592.1 243.8,593.4 L227.2,602.2 Q225.6,602.9 225.6,601.7 Z" fill="#e9f0fc" stroke="#8aa0dc" stroke-width="1.0" stroke-linejoin="round"/>
<path d="M225.6,607.7 Q225.6,606.5 227.2,607.2 L243.8,616.0 Q245.6,617.3 243.8,618.6 L227.2,627.4 Q225.6,628.1 225.6,626.9 Z" fill="#e9f0fc" stroke="#8aa0dc" stroke-width="1.0" stroke-linejoin="round"/>
<path d="M225.6,634.5 Q225.6,633.3 227.2,634.0 L243.8,642.8 Q245.6,644.1 243.8,645.4 L227.2,654.2 Q225.6,654.9 225.6,653.7 Z" fill="#e9f0fc" stroke="#8aa0dc" stroke-width="1.0" stroke-linejoin="round"/>
<path d="M225.6,661.5 Q225.6,660.3 227.2,661.0 L243.8,669.8 Q245.6,671.1 243.8,672.4 L227.2,681.2 Q225.6,681.9 225.6,680.7 Z" fill="#e9f0fc" stroke="#8aa0dc" stroke-width="1.0" stroke-linejoin="round"/>
<path d="M225.6,688.5 Q225.6,687.3 227.2,688.0 L243.8,696.8 Q245.6,698.1 243.8,699.4 L227.2,708.2 Q225.6,708.9 225.6,707.7 Z" fill="#e9f0fc" stroke="#8aa0dc" stroke-width="1.0" stroke-linejoin="round"/>
<path d="M330.6,557.7 Q330.6,556.5 329.0,557.2 L312.4,566.0 Q310.59999999999997,567.3 312.4,568.6 L329.0,577.4 Q330.6,578.1 330.6,576.9 Z" fill="#e9f0fc" stroke="#8aa0dc" stroke-width="1.0" stroke-linejoin="round"/>
<path d="M330.6,584.5 Q330.6,583.3 329.0,584.0 L312.4,592.8 Q310.59999999999997,594.1 312.4,595.4 L329.0,604.2 Q330.6,604.9 330.6,603.7 Z" fill="#e9f0fc" stroke="#8aa0dc" stroke-width="1.0" stroke-linejoin="round"/>
<path d="M330.6,611.3 Q330.6,610.1 329.0,610.8 L312.4,619.6 Q310.59999999999997,620.9 312.4,622.2 L329.0,631.0 Q330.6,631.7 330.6,630.5 Z" fill="#e9f0fc" stroke="#8aa0dc" stroke-width="1.0" stroke-linejoin="round"/>
<path d="M330.6,638.2 Q330.6,637.0 329.0,637.7 L312.4,646.5 Q310.59999999999997,647.8 312.4,649.1 L329.0,657.9 Q330.6,658.6 330.6,657.4 Z" fill="#e9f0fc" stroke="#8aa0dc" stroke-width="1.0" stroke-linejoin="round"/>
<path d="M330.6,663.9 Q330.6,662.7 329.0,663.4 L312.4,672.2 Q310.59999999999997,673.5 312.4,674.8 L329.0,683.6 Q330.6,684.3 330.6,683.1 Z" fill="#e9f0fc" stroke="#8aa0dc" stroke-width="1.0" stroke-linejoin="round"/>
<path d="M330.6,689.5 Q330.6,688.3 329.0,689.0 L312.4,697.8 Q310.59999999999997,699.1 312.4,700.4 L329.0,709.2 Q330.6,709.9 330.6,708.7 Z" fill="#e9f0fc" stroke="#8aa0dc" stroke-width="1.0" stroke-linejoin="round"/>
<use href="#sphA" transform="translate(289.8 574.3)"/>
<use href="#sphA" transform="translate(288.1 635.4)"/>
<use href="#sphA" transform="translate(288.1 693.5)"/>
<use href="#sphB" transform="translate(265.6 601.4)"/>
<use href="#sphB" transform="translate(267.0 666.6)"/>
<use href="#cart" transform="translate(217.3 561.7) scale(0.72)"/>
<use href="#cart" transform="translate(210.4 575.6) scale(0.72)"/>
<use href="#cart" transform="translate(216.8 583.5) scale(0.72)"/>
<use href="#cart" transform="translate(210.4 592.2) scale(0.72)"/>
<use href="#cart" transform="translate(216.8 604.1) scale(0.72)"/>
<use href="#cart" transform="translate(208.2 622.5) scale(0.72)"/>
<use href="#cart" transform="translate(214.1 636.9) scale(0.72)"/>
<use href="#cart" transform="translate(211.1 651.3) scale(0.72)"/>
<use href="#cart" transform="translate(217.8 664.7) scale(0.72)"/>
<use href="#cart" transform="translate(209.4 673.4) scale(0.72)"/>
<use href="#cart" transform="translate(215.4 690.7) scale(0.72)"/>
<use href="#cart" transform="translate(211.9 705.6) scale(0.72)"/>
<use href="#cart" transform="translate(242.9 579.0) scale(0.72)"/>
<use href="#cart" transform="translate(240.4 601.4) scale(0.72)"/>
<use href="#cart" transform="translate(245.4 608.8) scale(0.72)"/>
<use href="#cart" transform="translate(242.9 629.9) scale(0.72)"/>
<use href="#cart" transform="translate(251.3 647.5) scale(0.72)"/>
<use href="#cart" transform="translate(242.9 656.0) scale(0.72)"/>
<use href="#cart" transform="translate(248.4 676.6) scale(0.72)"/>
<use href="#cart" transform="translate(242.2 684.5) scale(0.72)"/>
<use href="#cart" transform="translate(250.8 689.5) scale(0.72)"/>
<line x1="221.00" y1="579.40" x2="232.50" y2="579.40" stroke="#3a4158" stroke-width="1.0" stroke-dasharray="1.6 1.4"/>
<path d="M232.3,577.3 L237,579.4 L232.3,581.5 Z" fill="#3a4158"/>
<line x1="221.00" y1="604.10" x2="232.50" y2="604.10" stroke="#3a4158" stroke-width="1.0" stroke-dasharray="1.6 1.4"/>
<path d="M232.3,602.0 L237,604.1 L232.3,606.2 Z" fill="#3a4158"/>
<line x1="221.00" y1="630.00" x2="232.50" y2="630.00" stroke="#3a4158" stroke-width="1.0" stroke-dasharray="1.6 1.4"/>
<path d="M232.3,627.9 L237,630.0 L232.3,632.1 Z" fill="#3a4158"/>
<line x1="221.00" y1="657.30" x2="232.50" y2="657.30" stroke="#3a4158" stroke-width="1.0" stroke-dasharray="1.6 1.4"/>
<path d="M232.3,655.2 L237,657.3 L232.3,659.4 Z" fill="#3a4158"/>
<line x1="221.00" y1="685.40" x2="232.50" y2="685.40" stroke="#3a4158" stroke-width="1.0" stroke-dasharray="1.6 1.4"/>
<path d="M232.3,683.3 L237,685.4 L232.3,687.5 Z" fill="#3a4158"/>
<rect x="201.4" y="556.1" width="152.9" height="160.60000000000002" fill="none" stroke="#444" stroke-width="1.1"/>
<text transform="translate(277.3 539.5) scale(1.040 1)" font-size="11.00" text-anchor="middle" fill="#222">Centre channel</text>
<text transform="translate(277.3 551.6) scale(1.040 1)" font-size="11.00" text-anchor="middle" fill="#222">(gel region)</text>
<text transform="translate(196.7 642.1) rotate(-90) scale(1.040 1)" font-size="10.81" text-anchor="middle" fill="#222">Side (media) channel</text>
<text transform="translate(358.6 642.1) rotate(90) scale(1.040 1)" font-size="10.81" text-anchor="middle" fill="#222">Side (media) channel</text>
<use href="#sphA" transform="translate(398.4 602.3)"/>
<use href="#cart" transform="translate(400.0 626.7)"/>
<text transform="translate(460.0 598.5) scale(1.040 1)" font-size="11.00" text-anchor="middle" fill="#222">Organotypic</text>
<text transform="translate(459.8 611.0) scale(1.040 1)" font-size="11.00" text-anchor="middle" fill="#222">tumour spheroids</text>
<text transform="translate(459.9 629.1) scale(0.905 1)" font-size="10.81" text-anchor="middle" fill="#222">CAR-T</text>
<text x="0.0" y="757.7" font-size="16" text-anchor="start" fill="#000" font-weight="bold" stroke="#000" stroke-width="0.45">f</text>
<rect x="86.2" y="804.4" width="20.8" height="6.1" fill="#9b9b9b" stroke="#4a4a4a" stroke-width="0.4"/>
<rect x="116.9" y="804.4" width="21.0" height="23.3" fill="#83d174" stroke="#4a4a4a" stroke-width="0.4"/>
<rect x="147.7" y="804.4" width="20.5" height="35.7" fill="#244bd2" stroke="#4a4a4a" stroke-width="0.4"/>
<line x1="96.43" y1="800.18" x2="96.43" y2="821.20" stroke="#555" stroke-width="0.8"/>
<line x1="92.49" y1="821.20" x2="100.37" y2="821.20" stroke="#555" stroke-width="0.8"/>
<line x1="127.17" y1="827.76" x2="127.17" y2="849.57" stroke="#555" stroke-width="0.8"/>
<line x1="122.70" y1="849.57" x2="131.63" y2="849.57" stroke="#555" stroke-width="0.8"/>
<line x1="157.65" y1="840.11" x2="157.65" y2="863.23" stroke="#555" stroke-width="0.8"/>
<line x1="153.18" y1="863.23" x2="162.11" y2="863.23" stroke="#555" stroke-width="0.8"/>
<line x1="76.20" y1="783.40" x2="76.20" y2="886.10" stroke="#555" stroke-width="1"/>
<line x1="75.70" y1="885.60" x2="178.70" y2="885.60" stroke="#555" stroke-width="1"/>
<line x1="76.20" y1="804.40" x2="178.70" y2="804.40" stroke="#333" stroke-width="0.9"/>
<line x1="70.70" y1="784.10" x2="76.20" y2="784.10" stroke="#555" stroke-width="1"/>
<text transform="translate(67.0 787.6) scale(1.040 1)" font-size="9.94" text-anchor="end" fill="#3a3a3a">1</text>
<line x1="70.70" y1="804.40" x2="76.20" y2="804.40" stroke="#555" stroke-width="1"/>
<text transform="translate(67.0 807.9) scale(1.040 1)" font-size="9.94" text-anchor="end" fill="#3a3a3a">0</text>
<line x1="70.70" y1="824.70" x2="76.20" y2="824.70" stroke="#555" stroke-width="1"/>
<text transform="translate(67.0 828.2) scale(1.040 1)" font-size="9.94" text-anchor="end" fill="#3a3a3a">−1</text>
<line x1="70.70" y1="845.00" x2="76.20" y2="845.00" stroke="#555" stroke-width="1"/>
<text transform="translate(67.0 848.5) scale(1.040 1)" font-size="9.94" text-anchor="end" fill="#3a3a3a">−2</text>
<line x1="70.70" y1="865.30" x2="76.20" y2="865.30" stroke="#555" stroke-width="1"/>
<text transform="translate(67.0 868.8) scale(1.040 1)" font-size="9.94" text-anchor="end" fill="#3a3a3a">−3</text>
<line x1="70.70" y1="885.60" x2="76.20" y2="885.60" stroke="#555" stroke-width="1"/>
<text transform="translate(67.0 889.1) scale(1.040 1)" font-size="9.94" text-anchor="end" fill="#3a3a3a">−4</text>
<circle cx="96.4" cy="800.2" r="3.1" fill="#8e8e8e" stroke="#555" stroke-width="0.7"/>
<circle cx="96.4" cy="808.6" r="3.1" fill="#8e8e8e" stroke="#555" stroke-width="0.7"/>
<circle cx="96.4" cy="821.2" r="3.1" fill="#8e8e8e" stroke="#555" stroke-width="0.7"/>
<circle cx="127.2" cy="811.2" r="3.1" fill="#7fd06d" stroke="#3a3a3a" stroke-width="0.7"/>
<circle cx="127.2" cy="817.8" r="3.1" fill="#7fd06d" stroke="#3a3a3a" stroke-width="0.7"/>
<circle cx="127.2" cy="852.2" r="3.1" fill="#7fd06d" stroke="#3a3a3a" stroke-width="0.7"/>
<circle cx="151.1" cy="825.7" r="3.1" fill="#2348d0" stroke="#1b2440" stroke-width="0.7"/>
<circle cx="164.7" cy="827.8" r="3.1" fill="#2348d0" stroke="#1b2440" stroke-width="0.7"/>
<circle cx="157.6" cy="866.4" r="3.1" fill="#2348d0" stroke="#1b2440" stroke-width="0.7"/>
<line x1="96.56" y1="885.60" x2="96.56" y2="890.80" stroke="#555" stroke-width="1"/>
<text transform="translate(100.4 899.9) rotate(-45) scale(0.957 1)" font-size="10.62" text-anchor="end" fill="#222">UT</text>
<line x1="127.43" y1="885.60" x2="127.43" y2="890.80" stroke="#555" stroke-width="1"/>
<text transform="translate(130.8 900.2) rotate(-45) scale(1.040 1)" font-size="10.62" text-anchor="end" fill="#222">Mock</text>
<line x1="157.91" y1="885.60" x2="157.91" y2="890.80" stroke="#555" stroke-width="1"/>
<text transform="translate(164.7 900.0) rotate(-45) scale(0.967 1)" font-size="10.62" text-anchor="end" fill="#222">EP2<tspan dy="-3.0" font-size="8.80" letter-spacing="0.45">-/-</tspan><tspan dy="3.0" font-size="1">&#160;</tspan>EP4<tspan dy="-3.0" font-size="8.80" letter-spacing="0.45">-/-</tspan><tspan dy="3.0" font-size="1">&#160;</tspan></text>
<text transform="translate(22.5 834.5) rotate(-90) scale(1.040 1)" font-size="11.10" text-anchor="middle" fill="#222">Cell viability relative to</text>
<text transform="translate(35.8 834.5) rotate(-90) scale(1.040 1)" font-size="11.10" text-anchor="middle" fill="#222">unstimulated condition</text>
<text transform="translate(49.0 834.5) rotate(-90) scale(1.040 1)" font-size="11.10" text-anchor="middle" fill="#222">(log<tspan dy="2.2" font-size="6.2">2</tspan><tspan dy="-2.2"> fold change)</tspan></text>
<path d="M96.4,770.7 V760.8 H157.6 V770.7" stroke="#444" stroke-width="0.8" fill="none"/>
<text transform="translate(127.2 757.4) scale(1.040 1)" font-size="7.72" text-anchor="middle" fill="#222">0.0222</text>
<path d="M96.4,788.4 V779.2 H123.5 V793.6" stroke="#444" stroke-width="0.8" fill="none"/>
<text transform="translate(110.4 776.0) scale(1.040 1)" font-size="7.24" text-anchor="middle" fill="#222">NS</text>
<path d="M130.6,793.6 V779.2 H157.6 V793.6" stroke="#444" stroke-width="0.8" fill="none"/>
<text transform="translate(144.0 776.0) scale(1.040 1)" font-size="7.24" text-anchor="middle" fill="#222">NS</text>
<text x="226.1" y="757.7" font-size="16" text-anchor="start" fill="#000" font-weight="bold" stroke="#000" stroke-width="0.45">g</text>
<rect x="256.7" y="804.4" width="20.5" height="10.1" fill="#9b9b9b" stroke="#4a4a4a" stroke-width="0.4"/>
<rect x="287.7" y="804.4" width="20.2" height="21.9" fill="#83d174" stroke="#4a4a4a" stroke-width="0.4"/>
<rect x="318.4" y="804.4" width="20.2" height="50.3" fill="#244bd2" stroke="#4a4a4a" stroke-width="0.4"/>
<line x1="266.95" y1="814.63" x2="266.95" y2="829.60" stroke="#555" stroke-width="0.8"/>
<line x1="261.96" y1="829.60" x2="271.94" y2="829.60" stroke="#555" stroke-width="0.8"/>
<line x1="297.43" y1="826.45" x2="297.43" y2="838.80" stroke="#555" stroke-width="0.8"/>
<line x1="292.96" y1="838.80" x2="301.90" y2="838.80" stroke="#555" stroke-width="0.8"/>
<line x1="328.17" y1="854.83" x2="328.17" y2="866.39" stroke="#555" stroke-width="0.8"/>
<line x1="323.70" y1="866.39" x2="332.64" y2="866.39" stroke="#555" stroke-width="0.8"/>
<line x1="246.70" y1="783.40" x2="246.70" y2="886.10" stroke="#555" stroke-width="1"/>
<line x1="246.20" y1="885.60" x2="348.70" y2="885.60" stroke="#555" stroke-width="1"/>
<line x1="246.70" y1="804.40" x2="348.70" y2="804.40" stroke="#333" stroke-width="0.9"/>
<line x1="241.20" y1="784.10" x2="246.70" y2="784.10" stroke="#555" stroke-width="1"/>
<text transform="translate(237.5 787.6) scale(1.040 1)" font-size="9.94" text-anchor="end" fill="#3a3a3a">1</text>
<line x1="241.20" y1="804.40" x2="246.70" y2="804.40" stroke="#555" stroke-width="1"/>
<text transform="translate(237.5 807.9) scale(1.040 1)" font-size="9.94" text-anchor="end" fill="#3a3a3a">0</text>
<line x1="241.20" y1="824.70" x2="246.70" y2="824.70" stroke="#555" stroke-width="1"/>
<text transform="translate(237.5 828.2) scale(1.040 1)" font-size="9.94" text-anchor="end" fill="#3a3a3a">−1</text>
<line x1="241.20" y1="845.00" x2="246.70" y2="845.00" stroke="#555" stroke-width="1"/>
<text transform="translate(237.5 848.5) scale(1.040 1)" font-size="9.94" text-anchor="end" fill="#3a3a3a">−2</text>
<line x1="241.20" y1="865.30" x2="246.70" y2="865.30" stroke="#555" stroke-width="1"/>
<text transform="translate(237.5 868.8) scale(1.040 1)" font-size="9.94" text-anchor="end" fill="#3a3a3a">−3</text>
<line x1="241.20" y1="885.60" x2="246.70" y2="885.60" stroke="#555" stroke-width="1"/>
<text transform="translate(237.5 889.1) scale(1.040 1)" font-size="9.94" text-anchor="end" fill="#3a3a3a">−4</text>
<circle cx="267.0" cy="797.5" r="3.1" fill="#8e8e8e" stroke="#555" stroke-width="0.7"/>
<circle cx="260.1" cy="823.3" r="3.1" fill="#8e8e8e" stroke="#555" stroke-width="0.7"/>
<circle cx="274.0" cy="822.8" r="3.1" fill="#8e8e8e" stroke="#555" stroke-width="0.7"/>
<circle cx="290.9" cy="817.8" r="3.1" fill="#7fd06d" stroke="#3a3a3a" stroke-width="0.7"/>
<circle cx="304.5" cy="822.8" r="3.1" fill="#7fd06d" stroke="#3a3a3a" stroke-width="0.7"/>
<circle cx="297.4" cy="840.1" r="3.1" fill="#7fd06d" stroke="#3a3a3a" stroke-width="0.7"/>
<circle cx="328.2" cy="844.1" r="3.1" fill="#2348d0" stroke="#1b2440" stroke-width="0.7"/>
<circle cx="328.2" cy="856.1" r="3.1" fill="#2348d0" stroke="#1b2440" stroke-width="0.7"/>
<circle cx="328.2" cy="866.1" r="3.1" fill="#2348d0" stroke="#1b2440" stroke-width="0.7"/>
<line x1="266.95" y1="885.60" x2="266.95" y2="890.80" stroke="#555" stroke-width="1"/>
<text transform="translate(270.8 899.9) rotate(-45) scale(0.957 1)" font-size="10.62" text-anchor="end" fill="#222">UT</text>
<line x1="297.82" y1="885.60" x2="297.82" y2="890.80" stroke="#555" stroke-width="1"/>
<text transform="translate(301.2 900.2) rotate(-45) scale(1.040 1)" font-size="10.62" text-anchor="end" fill="#222">Mock</text>
<line x1="328.57" y1="885.60" x2="328.57" y2="890.80" stroke="#555" stroke-width="1"/>
<text transform="translate(335.4 900.0) rotate(-45) scale(0.967 1)" font-size="10.62" text-anchor="end" fill="#222">EP2<tspan dy="-3.0" font-size="8.80" letter-spacing="0.45">-/-</tspan><tspan dy="3.0" font-size="1">&#160;</tspan>EP4<tspan dy="-3.0" font-size="8.80" letter-spacing="0.45">-/-</tspan><tspan dy="3.0" font-size="1">&#160;</tspan></text>
<text x="393.0" y="757.7" font-size="16" text-anchor="start" fill="#000" font-weight="bold" stroke="#000" stroke-width="0.45">h</text>
<rect x="424.4" y="804.4" width="20.2" height="6.3" fill="#9b9b9b" stroke="#4a4a4a" stroke-width="0.4"/>
<rect x="455.1" y="802.4" width="20.0" height="2.0" fill="#83d174" stroke="#4a4a4a" stroke-width="0.4"/>
<rect x="485.8" y="804.4" width="20.0" height="9.3" fill="#244bd2" stroke="#4a4a4a" stroke-width="0.4"/>
<line x1="434.08" y1="806.74" x2="434.08" y2="811.21" stroke="#555" stroke-width="0.8"/>
<line x1="430.14" y1="811.21" x2="438.02" y2="811.21" stroke="#555" stroke-width="0.8"/>
<line x1="465.08" y1="800.18" x2="465.08" y2="803.33" stroke="#555" stroke-width="0.8"/>
<line x1="495.82" y1="811.21" x2="495.82" y2="816.47" stroke="#555" stroke-width="0.8"/>
<line x1="491.88" y1="816.47" x2="499.76" y2="816.47" stroke="#555" stroke-width="0.8"/>
<line x1="414.40" y1="783.40" x2="414.40" y2="886.10" stroke="#555" stroke-width="1"/>
<line x1="413.90" y1="885.60" x2="515.50" y2="885.60" stroke="#555" stroke-width="1"/>
<line x1="414.40" y1="804.40" x2="515.50" y2="804.40" stroke="#333" stroke-width="0.9"/>
<line x1="408.90" y1="784.10" x2="414.40" y2="784.10" stroke="#555" stroke-width="1"/>
<text transform="translate(405.2 787.6) scale(1.040 1)" font-size="9.94" text-anchor="end" fill="#3a3a3a">1</text>
<line x1="408.90" y1="804.40" x2="414.40" y2="804.40" stroke="#555" stroke-width="1"/>
<text transform="translate(405.2 807.9) scale(1.040 1)" font-size="9.94" text-anchor="end" fill="#3a3a3a">0</text>
<line x1="408.90" y1="824.70" x2="414.40" y2="824.70" stroke="#555" stroke-width="1"/>
<text transform="translate(405.2 828.2) scale(1.040 1)" font-size="9.94" text-anchor="end" fill="#3a3a3a">−1</text>
<line x1="408.90" y1="845.00" x2="414.40" y2="845.00" stroke="#555" stroke-width="1"/>
<text transform="translate(405.2 848.5) scale(1.040 1)" font-size="9.94" text-anchor="end" fill="#3a3a3a">−2</text>
<line x1="408.90" y1="865.30" x2="414.40" y2="865.30" stroke="#555" stroke-width="1"/>
<text transform="translate(405.2 868.8) scale(1.040 1)" font-size="9.94" text-anchor="end" fill="#3a3a3a">−3</text>
<line x1="408.90" y1="885.60" x2="414.40" y2="885.60" stroke="#555" stroke-width="1"/>
<text transform="translate(405.2 889.1) scale(1.040 1)" font-size="9.94" text-anchor="end" fill="#3a3a3a">−4</text>
<circle cx="434.1" cy="806.0" r="3.1" fill="#8e8e8e" stroke="#555" stroke-width="0.7"/>
<circle cx="427.8" cy="810.7" r="3.1" fill="#8e8e8e" stroke="#555" stroke-width="0.7"/>
<circle cx="440.9" cy="809.1" r="3.1" fill="#8e8e8e" stroke="#555" stroke-width="0.7"/>
<circle cx="458.5" cy="803.9" r="3.1" fill="#7fd06d" stroke="#3a3a3a" stroke-width="0.7"/>
<circle cx="465.1" cy="801.2" r="3.1" fill="#7fd06d" stroke="#3a3a3a" stroke-width="0.7"/>
<circle cx="471.7" cy="801.2" r="3.1" fill="#7fd06d" stroke="#3a3a3a" stroke-width="0.7"/>
<circle cx="489.0" cy="816.5" r="3.1" fill="#2348d0" stroke="#1b2440" stroke-width="0.7"/>
<circle cx="495.8" cy="811.2" r="3.1" fill="#2348d0" stroke="#1b2440" stroke-width="0.7"/>
<circle cx="502.4" cy="811.2" r="3.1" fill="#2348d0" stroke="#1b2440" stroke-width="0.7"/>
<line x1="434.47" y1="885.60" x2="434.47" y2="890.80" stroke="#555" stroke-width="1"/>
<text transform="translate(438.3 899.9) rotate(-45) scale(0.957 1)" font-size="10.62" text-anchor="end" fill="#222">UT</text>
<line x1="465.08" y1="885.60" x2="465.08" y2="890.80" stroke="#555" stroke-width="1"/>
<text transform="translate(468.5 900.2) rotate(-45) scale(1.040 1)" font-size="10.62" text-anchor="end" fill="#222">Mock</text>
<line x1="495.82" y1="885.60" x2="495.82" y2="890.80" stroke="#555" stroke-width="1"/>
<text transform="translate(502.6 900.0) rotate(-45) scale(0.967 1)" font-size="10.62" text-anchor="end" fill="#222">EP2<tspan dy="-3.0" font-size="8.80" letter-spacing="0.45">-/-</tspan><tspan dy="3.0" font-size="1">&#160;</tspan>EP4<tspan dy="-3.0" font-size="8.80" letter-spacing="0.45">-/-</tspan><tspan dy="3.0" font-size="1">&#160;</tspan></text>
<text x="564.2" y="757.7" font-size="16" text-anchor="start" fill="#000" font-weight="bold" stroke="#000" stroke-width="0.45">i</text>
<rect x="592.5" y="791.0" width="20.5" height="13.4" fill="#9b9b9b" stroke="#4a4a4a" stroke-width="0.4"/>
<rect x="622.7" y="804.4" width="20.2" height="2.0" fill="#83d174" stroke="#4a4a4a" stroke-width="0.4"/>
<rect x="654.0" y="798.9" width="20.5" height="5.5" fill="#244bd2" stroke="#4a4a4a" stroke-width="0.4"/>
<line x1="602.48" y1="790.98" x2="602.48" y2="786.25" stroke="#555" stroke-width="0.8"/>
<line x1="598.54" y1="786.25" x2="607.47" y2="786.25" stroke="#555" stroke-width="0.8"/>
<line x1="633.22" y1="804.38" x2="633.22" y2="809.90" stroke="#555" stroke-width="0.8"/>
<line x1="629.01" y1="809.90" x2="637.69" y2="809.90" stroke="#555" stroke-width="0.8"/>
<line x1="663.96" y1="798.86" x2="663.96" y2="794.92" stroke="#555" stroke-width="0.8"/>
<line x1="582.50" y1="783.40" x2="582.50" y2="886.10" stroke="#555" stroke-width="1"/>
<line x1="582.00" y1="885.60" x2="685.00" y2="885.60" stroke="#555" stroke-width="1"/>
<line x1="582.50" y1="804.40" x2="685.00" y2="804.40" stroke="#333" stroke-width="0.9"/>
<line x1="577.00" y1="784.10" x2="582.50" y2="784.10" stroke="#555" stroke-width="1"/>
<text transform="translate(573.3 787.6) scale(1.040 1)" font-size="9.94" text-anchor="end" fill="#3a3a3a">1</text>
<line x1="577.00" y1="804.40" x2="582.50" y2="804.40" stroke="#555" stroke-width="1"/>
<text transform="translate(573.3 807.9) scale(1.040 1)" font-size="9.94" text-anchor="end" fill="#3a3a3a">0</text>
<line x1="577.00" y1="824.70" x2="582.50" y2="824.70" stroke="#555" stroke-width="1"/>
<text transform="translate(573.3 828.2) scale(1.040 1)" font-size="9.94" text-anchor="end" fill="#3a3a3a">−1</text>
<line x1="577.00" y1="845.00" x2="582.50" y2="845.00" stroke="#555" stroke-width="1"/>
<text transform="translate(573.3 848.5) scale(1.040 1)" font-size="9.94" text-anchor="end" fill="#3a3a3a">−2</text>
<line x1="577.00" y1="865.30" x2="582.50" y2="865.30" stroke="#555" stroke-width="1"/>
<text transform="translate(573.3 868.8) scale(1.040 1)" font-size="9.94" text-anchor="end" fill="#3a3a3a">−3</text>
<line x1="577.00" y1="885.60" x2="582.50" y2="885.60" stroke="#555" stroke-width="1"/>
<text transform="translate(573.3 889.1) scale(1.040 1)" font-size="9.94" text-anchor="end" fill="#3a3a3a">−4</text>
<circle cx="596.2" cy="786.3" r="3.1" fill="#8e8e8e" stroke="#555" stroke-width="0.7"/>
<circle cx="596.2" cy="794.4" r="3.1" fill="#8e8e8e" stroke="#555" stroke-width="0.7"/>
<circle cx="609.3" cy="792.3" r="3.1" fill="#8e8e8e" stroke="#555" stroke-width="0.7"/>
<circle cx="626.7" cy="802.8" r="3.1" fill="#7fd06d" stroke="#3a3a3a" stroke-width="0.7"/>
<circle cx="626.7" cy="810.7" r="3.1" fill="#7fd06d" stroke="#3a3a3a" stroke-width="0.7"/>
<circle cx="639.8" cy="805.4" r="3.1" fill="#7fd06d" stroke="#3a3a3a" stroke-width="0.7"/>
<circle cx="664.0" cy="791.5" r="3.1" fill="#2348d0" stroke="#1b2440" stroke-width="0.7"/>
<circle cx="657.4" cy="804.6" r="3.1" fill="#2348d0" stroke="#1b2440" stroke-width="0.7"/>
<circle cx="670.5" cy="801.0" r="3.1" fill="#2348d0" stroke="#1b2440" stroke-width="0.7"/>
<line x1="602.74" y1="885.60" x2="602.74" y2="890.80" stroke="#555" stroke-width="1"/>
<text transform="translate(606.5 899.9) rotate(-45) scale(0.957 1)" font-size="10.62" text-anchor="end" fill="#222">UT</text>
<line x1="632.82" y1="885.60" x2="632.82" y2="890.80" stroke="#555" stroke-width="1"/>
<text transform="translate(636.2 900.2) rotate(-45) scale(1.040 1)" font-size="10.62" text-anchor="end" fill="#222">Mock</text>
<line x1="664.22" y1="885.60" x2="664.22" y2="890.80" stroke="#555" stroke-width="1"/>
<text transform="translate(671.0 900.0) rotate(-45) scale(0.967 1)" font-size="10.62" text-anchor="end" fill="#222">EP2<tspan dy="-3.0" font-size="8.80" letter-spacing="0.45">-/-</tspan><tspan dy="3.0" font-size="1">&#160;</tspan>EP4<tspan dy="-3.0" font-size="8.80" letter-spacing="0.45">-/-</tspan><tspan dy="3.0" font-size="1">&#160;</tspan></text>
</svg>
</body></html>
